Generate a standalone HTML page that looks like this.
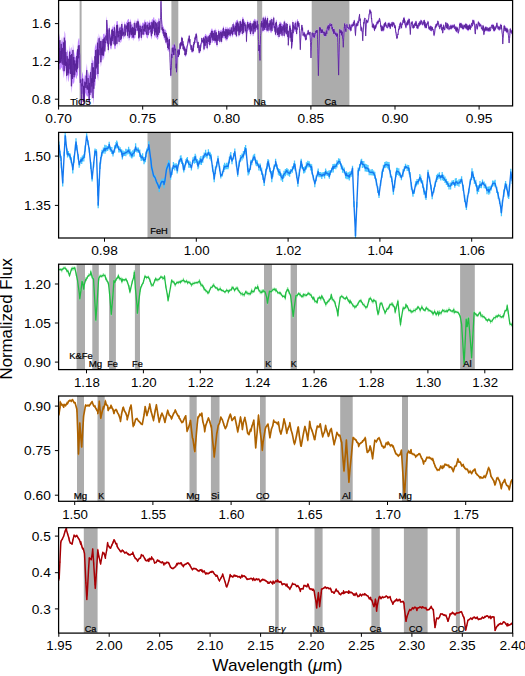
<!DOCTYPE html><html><head><meta charset="utf-8"><style>html,body{margin:0;padding:0;background:#fff;}svg{display:block;}</style></head><body>
<svg width="525" height="676" viewBox="0 0 525 676" font-family='"Liberation Sans", sans-serif'>
<rect width="525" height="676" fill="#fff"/>
<clipPath id="c0"><rect x="58.6" y="0.4" width="454.0" height="105.5"/></clipPath>
<g clip-path="url(#c0)">
<rect x="79.6" y="0.4" width="2.00" height="105.5" fill="#acacac"/>
<rect x="171.4" y="0.4" width="6.90" height="105.5" fill="#acacac"/>
<rect x="257.1" y="0.4" width="5.10" height="105.5" fill="#acacac"/>
<rect x="311.7" y="0.4" width="37.70" height="105.5" fill="#acacac"/>
<path d="M58.60,40.97 L59.65,33.19 L60.35,51.58 L61.05,36.93 L61.75,42.52 L62.45,40.91 L63.15,35.43 L63.85,50.36 L64.55,30.70 L65.25,33.54 L65.95,44.98 L66.65,55.99 L67.35,49.20 L68.05,51.83 L68.75,58.66 L69.45,44.70 L70.15,52.23 L70.85,48.04 L71.55,46.97 L72.25,64.72 L72.95,42.93 L73.65,50.08 L74.35,53.41 L75.05,57.83 L75.75,56.63 L76.45,48.96 L77.15,54.48 L77.85,42.07 L78.55,38.79 L79.25,38.07 L79.95,48.52 L80.65,72.40 L81.35,80.18 L82.05,74.38 L82.75,71.57 L83.45,78.89 L84.15,79.30 L84.85,74.69 L85.55,75.56 L86.25,69.00 L86.95,63.14 L87.65,78.42 L88.35,71.07 L89.05,75.91 L89.75,75.08 L90.45,65.19 L91.15,76.56 L91.85,55.99 L92.55,60.82 L93.25,60.05 L93.95,63.21 L94.65,49.27 L95.35,43.16 L96.05,47.07 L96.75,42.54 L97.45,35.71 L98.15,44.63 L98.85,33.26 L99.55,37.80 L100.25,35.98 L100.95,48.42 L101.65,35.91 L102.35,41.79 L103.05,34.19 L103.75,33.77 L104.45,33.49 L105.15,37.71 L105.85,31.61 L106.55,16.00 L107.25,22.48 L107.95,25.58 L108.65,35.52 L109.35,24.34 L110.05,34.93 L110.75,34.34 L111.45,31.58 L112.15,25.47 L112.85,27.98 L113.55,27.05 L114.25,23.38 L114.95,27.03 L115.65,32.17 L116.35,21.46 L117.05,20.92 L117.75,20.88 L118.45,27.13 L119.15,30.94 L119.85,23.60 L120.55,26.93 L121.25,26.53 L121.95,20.50 L122.65,24.96 L123.35,28.95 L124.05,25.25 L124.75,20.93 L125.45,25.60 L126.15,22.53 L126.85,21.74 L127.55,19.69 L128.25,19.27 L128.95,18.65 L129.65,26.41 L130.35,18.40 L131.05,21.34 L131.75,24.43 L132.45,23.41 L133.15,28.96 L133.85,24.49 L134.55,19.40 L135.25,25.61 L135.95,19.57 L136.65,23.68 L137.35,17.82 L138.05,22.50 L138.75,18.07 L139.45,24.65 L140.15,22.28 L140.85,27.08 L141.55,25.56 L142.25,23.12 L142.95,22.32 L143.65,23.34 L144.35,20.93 L145.05,18.91 L145.75,23.72 L146.45,21.91 L147.15,21.16 L147.85,21.65 L148.55,23.73 L149.25,19.32 L149.95,22.66 L150.65,21.83 L151.35,21.79 L152.05,18.66 L152.75,19.72 L153.45,17.13 L154.15,17.24 L154.85,22.56 L155.55,18.63 L156.25,19.92 L156.95,24.07 L157.65,21.14 L158.35,18.71 L159.05,17.53 L159.75,25.61 L160.45,14.78 L161.15,-1.80 L161.85,16.90 L162.55,24.37 L163.25,26.26 L163.95,27.39 L164.65,29.71 L165.35,29.52 L166.05,30.01 L166.75,33.77 L167.45,35.15 L168.15,40.42 L168.85,36.61 L169.55,36.24 L170.25,54.23 L170.95,66.48 L171.65,51.05 L172.35,44.79 L173.05,44.59 L173.75,46.82 L174.45,41.67 L175.15,46.44 L175.85,45.76 L176.55,60.72 L177.25,49.74 L177.95,48.16 L178.65,49.86 L179.35,48.46 L180.05,42.09 L180.75,41.66 L181.45,36.26 L182.15,36.94 L182.85,39.84 L183.55,42.78 L184.25,45.22 L184.95,47.14 L185.65,47.84 L186.35,47.86 L187.05,44.16 L187.75,40.43 L188.45,37.22 L189.15,34.34 L189.85,37.71 L190.55,44.56 L191.25,47.31 L191.95,43.88 L192.65,47.73 L193.35,42.70 L194.05,40.64 L194.75,36.26 L195.45,35.38 L196.15,32.44 L196.85,33.41 L197.55,41.49 L198.25,40.60 L198.95,48.55 L199.65,44.99 L200.35,43.87 L201.05,41.51 L201.75,36.65 L202.45,38.89 L203.15,39.19 L203.85,36.22 L204.55,36.17 L205.25,33.83 L205.95,34.25 L206.65,35.36 L207.35,37.37 L208.05,33.94 L208.75,36.41 L209.45,32.80 L210.15,34.33 L210.85,30.33 L211.55,28.40 L212.25,28.41 L212.95,30.64 L213.65,30.45 L214.35,31.87 L215.05,27.93 L215.75,30.16 L216.45,29.86 L217.15,37.31 L217.85,32.48 L218.55,28.64 L219.25,30.86 L219.95,31.89 L220.65,29.39 L221.35,30.84 L222.05,29.37 L222.75,28.89 L223.45,25.37 L224.15,28.86 L224.85,29.47 L225.55,26.81 L226.25,26.75 L226.95,30.90 L227.65,26.35 L228.35,29.57 L229.05,27.31 L229.75,27.23 L230.45,30.05 L231.15,24.93 L231.85,28.50 L232.55,26.99 L233.25,21.66 L233.95,23.59 L234.65,25.14 L235.35,23.41 L236.05,20.17 L236.75,20.38 L237.45,19.15 L238.15,20.96 L238.85,26.85 L239.55,23.84 L240.25,18.73 L240.95,22.39 L241.65,21.42 L242.35,17.52 L243.05,16.46 L243.75,20.22 L244.45,20.54 L245.15,22.24 L245.85,22.08 L246.55,29.66 L247.25,19.61 L247.95,22.09 L248.65,21.76 L249.35,22.85 L250.05,20.95 L250.75,20.55 L251.45,25.41 L252.15,21.15 L252.85,25.01 L253.55,20.84 L254.25,18.39 L254.95,19.60 L255.65,19.13 L256.35,22.90 L257.05,18.30 L257.75,20.43 L258.45,25.02 L259.15,42.50 L259.85,45.93 L260.55,31.16 L261.25,20.63 L261.95,18.73 L262.65,20.80 L263.35,15.23 L264.05,19.73 L264.75,17.07 L265.45,15.27 L266.15,19.76 L266.85,17.88 L267.55,15.55 L268.25,25.28 L268.95,20.88 L269.65,20.86 L270.35,17.86 L271.05,25.61 L271.75,16.56 L272.45,20.86 L273.15,19.82 L273.85,15.18 L274.55,23.67 L275.25,24.47 L275.95,20.33 L276.65,19.41 L277.35,26.25 L278.05,25.21 L278.75,24.91 L279.45,21.55 L280.15,22.77 L280.85,21.26 L281.55,23.55 L282.25,24.11 L282.95,24.44 L283.65,22.92 L284.35,19.15 L285.05,25.77 L285.75,20.81 L286.45,24.86 L287.15,21.51 L287.85,28.52 L288.55,31.52 L289.25,24.78 L289.95,23.32 L290.65,25.36 L291.35,29.93 L292.05,36.79 L292.75,19.54 L293.45,22.72 L294.15,24.02 L294.85,22.15 L295.55,20.37 L296.25,24.71 L296.95,19.78 L297.65,18.72 L298.35,22.53 L299.05,21.78 L299.75,29.54 L300.45,40.78 L301.15,27.93 L301.85,23.82 L302.55,26.47 L303.25,32.81 L303.95,31.40 L304.65,31.87 L305.35,33.24 L306.05,36.72 L306.75,32.95 L307.45,31.89 L308.15,29.11 L308.85,31.41 L309.55,32.30 L310.25,30.86 L310.95,46.25 L311.65,35.42 L312.35,31.41 L313.05,34.74 L313.75,31.95 L314.45,33.91 L315.15,31.91 L315.85,29.68 L316.55,29.24 L317.25,28.93 L317.95,47.28 L318.65,53.35 L319.35,26.10 L320.05,26.43 L320.75,27.80 L321.45,28.91 L322.15,28.50 L322.85,29.92 L323.55,30.74 L324.25,33.51 L324.95,30.70 L325.65,32.01 L326.35,29.44 L327.05,26.61 L327.75,25.36 L328.45,24.05 L329.15,25.74 L329.85,22.39 L330.55,23.75 L331.25,24.57 L331.95,22.79 L332.65,28.10 L333.35,27.96 L334.05,28.07 L334.75,30.46 L335.45,31.66 L336.15,31.63 L336.85,32.85 L337.55,32.44 L338.25,52.54 L338.95,51.04 L339.65,28.21 L340.35,29.27 L341.05,29.35 L341.75,30.94 L342.45,30.40 L343.15,38.37 L343.85,27.91 L344.55,22.36 L345.25,24.05 L345.95,26.73 L346.65,23.22 L347.35,23.44 L348.05,26.07 L348.75,27.58 L349.45,23.29 L350.15,24.14 L350.85,26.14 L351.55,23.54 L352.25,23.71 L352.95,23.05 L353.65,21.06 L354.35,19.31 L355.05,21.96 L355.75,25.64 L356.45,22.78 L357.15,21.85 L357.85,20.20 L358.55,18.21 L359.25,13.11 L359.95,17.42 L360.65,22.13 L361.35,26.44 L362.05,26.36 L362.75,31.51 L363.45,21.07 L364.15,18.35 L364.85,16.80 L365.55,24.74 L366.25,18.79 L366.95,19.51 L367.65,19.82 L368.35,18.11 L369.05,13.01 L369.75,8.49 L370.45,9.90 L371.15,10.60 L371.85,16.94 L372.55,24.38 L373.25,22.70 L373.95,24.27 L374.65,26.07 L375.35,24.29 L376.05,23.62 L376.75,21.25 L377.45,20.38 L378.15,19.82 L378.85,19.39 L379.55,17.16 L380.25,19.67 L380.95,24.36 L381.65,25.26 L382.35,25.41 L383.05,25.78 L383.75,25.00 L384.45,22.60 L385.15,21.91 L385.85,21.28 L386.55,24.26 L387.25,26.15 L387.95,22.29 L388.65,22.53 L389.35,21.76 L390.05,24.18 L390.75,22.76 L391.45,22.91 L392.15,21.00 L392.85,22.63 L393.55,21.47 L394.25,23.84 L394.95,24.27 L395.65,25.73 L396.35,31.42 L397.05,35.77 L397.75,32.79 L398.45,28.07 L399.15,24.77 L399.85,22.49 L400.55,21.36 L401.25,23.47 L401.95,22.78 L402.65,19.80 L403.35,18.68 L404.05,16.58 L404.75,17.61 L405.45,22.67 L406.15,23.46 L406.85,21.33 L407.55,20.09 L408.25,18.74 L408.95,17.75 L409.65,19.43 L410.35,27.96 L411.05,21.44 L411.75,22.00 L412.45,20.40 L413.15,25.06 L413.85,23.76 L414.55,22.63 L415.25,21.70 L415.95,20.24 L416.65,21.18 L417.35,23.91 L418.05,25.53 L418.75,21.82 L419.45,21.42 L420.15,20.46 L420.85,19.24 L421.55,19.99 L422.25,22.60 L422.95,20.62 L423.65,21.03 L424.35,18.92 L425.05,20.78 L425.75,22.91 L426.45,23.43 L427.15,21.92 L427.85,20.31 L428.55,23.55 L429.25,25.66 L429.95,26.45 L430.65,24.87 L431.35,26.21 L432.05,26.02 L432.75,27.74 L433.45,29.36 L434.15,32.04 L434.85,26.58 L435.55,24.72 L436.25,23.04 L436.95,22.99 L437.65,19.75 L438.35,21.54 L439.05,24.55 L439.75,24.30 L440.45,23.89 L441.15,23.11 L441.85,24.13 L442.55,28.99 L443.25,24.03 L443.95,24.03 L444.65,27.56 L445.35,23.55 L446.05,21.23 L446.75,26.14 L447.45,22.31 L448.15,23.67 L448.85,25.57 L449.55,26.45 L450.25,24.66 L450.95,24.36 L451.65,25.05 L452.35,24.30 L453.05,24.96 L453.75,24.89 L454.45,23.44 L455.15,25.57 L455.85,26.50 L456.55,26.32 L457.25,26.54 L457.95,28.16 L458.65,28.94 L459.35,22.77 L460.05,21.99 L460.75,23.81 L461.45,22.37 L462.15,25.07 L462.85,23.52 L463.55,26.91 L464.25,23.84 L464.95,25.50 L465.65,22.64 L466.35,22.99 L467.05,26.02 L467.75,24.51 L468.45,25.15 L469.15,24.41 L469.85,23.57 L470.55,24.90 L471.25,23.93 L471.95,21.77 L472.65,19.05 L473.35,20.12 L474.05,19.37 L474.75,22.33 L475.45,27.34 L476.15,22.78 L476.85,24.04 L477.55,24.65 L478.25,20.60 L478.95,21.69 L479.65,24.01 L480.35,23.51 L481.05,23.48 L481.75,26.69 L482.45,27.61 L483.15,24.20 L483.85,29.57 L484.55,27.62 L485.25,25.70 L485.95,27.19 L486.65,25.97 L487.35,27.53 L488.05,28.99 L488.75,26.96 L489.45,26.38 L490.15,29.07 L490.85,25.78 L491.55,24.36 L492.25,23.87 L492.95,24.04 L493.65,24.29 L494.35,28.04 L495.05,25.45 L495.75,26.56 L496.45,24.13 L497.15,21.67 L497.85,26.21 L498.55,25.48 L499.25,26.40 L499.95,25.49 L500.65,23.53 L501.35,23.82 L502.05,27.42 L502.75,36.50 L503.45,28.86 L504.15,24.49 L504.85,25.20 L505.55,27.12 L506.25,27.67 L506.95,27.24 L507.65,28.39 L508.35,31.38 L509.05,37.26 L509.75,29.25 L510.45,27.52 L511.15,30.00 L511.85,29.48 L512.60,31.84 L512.60,35.42 L511.85,34.42 L511.15,33.77 L510.45,32.36 L509.75,39.45 L509.05,44.20 L508.35,36.96 L507.65,32.82 L506.95,33.54 L506.25,31.22 L505.55,31.82 L504.85,32.18 L504.15,29.53 L503.45,38.16 L502.75,45.20 L502.05,35.36 L501.35,30.29 L500.65,27.50 L499.95,30.73 L499.25,30.73 L498.55,30.21 L497.85,29.75 L497.15,28.28 L496.45,27.81 L495.75,30.29 L495.05,30.69 L494.35,31.98 L493.65,31.64 L492.95,29.95 L492.25,26.77 L491.55,27.95 L490.85,30.65 L490.15,31.70 L489.45,32.09 L488.75,31.94 L488.05,31.77 L487.35,31.47 L486.65,31.10 L485.95,31.84 L485.25,30.87 L484.55,32.93 L483.85,35.85 L483.15,29.34 L482.45,31.59 L481.75,30.32 L481.05,27.59 L480.35,26.78 L479.65,27.43 L478.95,25.46 L478.25,26.91 L477.55,30.23 L476.85,30.04 L476.15,27.01 L475.45,35.20 L474.75,33.17 L474.05,24.74 L473.35,24.66 L472.65,27.29 L471.95,26.01 L471.25,27.87 L470.55,30.76 L469.85,27.87 L469.15,30.20 L468.45,31.18 L467.75,31.20 L467.05,30.24 L466.35,29.66 L465.65,29.02 L464.95,28.30 L464.25,27.99 L463.55,30.16 L462.85,29.97 L462.15,29.22 L461.45,28.02 L460.75,28.61 L460.05,26.45 L459.35,30.29 L458.65,34.20 L457.95,34.04 L457.25,31.39 L456.55,32.68 L455.85,31.71 L455.15,30.21 L454.45,29.15 L453.75,28.36 L453.05,28.37 L452.35,28.20 L451.65,29.35 L450.95,30.27 L450.25,28.25 L449.55,30.26 L448.85,30.70 L448.15,27.73 L447.45,29.90 L446.75,29.23 L446.05,25.53 L445.35,28.44 L444.65,31.12 L443.95,30.08 L443.25,31.82 L442.55,34.27 L441.85,31.32 L441.15,27.08 L440.45,28.15 L439.75,29.86 L439.05,27.84 L438.35,24.55 L437.65,25.25 L436.95,26.65 L436.25,27.45 L435.55,28.90 L434.85,34.74 L434.15,36.63 L433.45,34.01 L432.75,31.08 L432.05,30.47 L431.35,32.10 L430.65,30.40 L429.95,30.74 L429.25,29.86 L428.55,29.84 L427.85,25.29 L427.15,25.96 L426.45,29.04 L425.75,27.95 L425.05,28.77 L424.35,27.41 L423.65,24.61 L422.95,25.58 L422.25,25.74 L421.55,24.17 L420.85,24.37 L420.15,25.64 L419.45,26.82 L418.75,26.83 L418.05,29.78 L417.35,28.72 L416.65,28.94 L415.95,27.10 L415.25,24.95 L414.55,26.27 L413.85,29.00 L413.15,29.36 L412.45,27.06 L411.75,25.10 L411.05,27.91 L410.35,35.70 L409.65,29.19 L408.95,24.39 L408.25,25.37 L407.55,25.65 L406.85,26.25 L406.15,28.70 L405.45,28.25 L404.75,25.30 L404.05,24.20 L403.35,22.58 L402.65,25.00 L401.95,25.80 L401.25,29.35 L400.55,26.65 L399.85,29.95 L399.15,29.51 L398.45,33.57 L397.75,36.50 L397.05,39.80 L396.35,37.16 L395.65,33.77 L394.95,29.40 L394.25,26.30 L393.55,25.57 L392.85,27.75 L392.15,26.13 L391.45,26.73 L390.75,27.47 L390.05,29.81 L389.35,27.89 L388.65,27.15 L387.95,28.03 L387.25,29.16 L386.55,27.70 L385.85,26.82 L385.15,26.89 L384.45,27.90 L383.75,31.48 L383.05,31.39 L382.35,31.23 L381.65,31.91 L380.95,29.90 L380.25,24.07 L379.55,20.59 L378.85,23.16 L378.15,24.60 L377.45,24.53 L376.75,26.28 L376.05,28.63 L375.35,29.34 L374.65,31.75 L373.95,30.17 L373.25,27.97 L372.55,28.53 L371.85,23.66 L371.15,20.24 L370.45,14.51 L369.75,14.04 L369.05,18.65 L368.35,21.96 L367.65,23.73 L366.95,22.83 L366.25,30.52 L365.55,37.20 L364.85,20.32 L364.15,24.70 L363.45,31.19 L362.75,42.00 L362.05,32.19 L361.35,31.86 L360.65,30.54 L359.95,22.15 L359.25,17.88 L358.55,24.04 L357.85,26.97 L357.15,24.72 L356.45,27.39 L355.75,36.70 L355.05,35.31 L354.35,26.28 L353.65,25.44 L352.95,27.22 L352.25,27.49 L351.55,28.35 L350.85,31.93 L350.15,31.24 L349.45,29.94 L348.75,30.07 L348.05,29.16 L347.35,28.98 L346.65,26.93 L345.95,32.95 L345.25,31.47 L344.55,28.88 L343.85,38.98 L343.15,48.50 L342.45,40.06 L341.75,36.48 L341.05,34.40 L340.35,33.76 L339.65,45.87 L338.95,76.30 L338.25,70.13 L337.55,43.63 L336.85,37.57 L336.15,37.64 L335.45,36.22 L334.75,35.03 L334.05,33.06 L333.35,34.86 L332.65,32.61 L331.95,30.39 L331.25,27.47 L330.55,26.92 L329.85,25.78 L329.15,29.57 L328.45,31.53 L327.75,29.60 L327.05,35.16 L326.35,33.62 L325.65,37.07 L324.95,36.98 L324.25,36.96 L323.55,34.03 L322.85,33.08 L322.15,33.95 L321.45,34.09 L320.75,34.08 L320.05,31.84 L319.35,47.08 L318.65,76.90 L317.95,68.40 L317.25,40.91 L316.55,33.93 L315.85,34.37 L315.15,36.89 L314.45,38.71 L313.75,37.67 L313.05,38.35 L312.35,35.93 L311.65,46.36 L310.95,59.20 L310.25,43.76 L309.55,35.83 L308.85,35.59 L308.15,33.64 L307.45,35.72 L306.75,36.37 L306.05,40.72 L305.35,40.93 L304.65,38.02 L303.95,36.42 L303.25,36.79 L302.55,33.07 L301.85,29.73 L301.15,38.60 L300.45,50.90 L299.75,42.09 L299.05,27.46 L298.35,27.79 L297.65,27.06 L296.95,36.46 L296.25,32.51 L295.55,31.65 L294.85,31.93 L294.15,30.33 L293.45,35.64 L292.75,44.31 L292.05,47.50 L291.35,50.82 L290.65,34.05 L289.95,40.23 L289.25,35.70 L288.55,47.75 L287.85,39.44 L287.15,32.14 L286.45,36.66 L285.75,32.22 L285.05,34.96 L284.35,38.34 L283.65,33.46 L282.95,33.03 L282.25,38.08 L281.55,34.89 L280.85,36.33 L280.15,34.07 L279.45,36.40 L278.75,39.40 L278.05,33.21 L277.35,37.41 L276.65,35.20 L275.95,28.74 L275.25,37.04 L274.55,31.49 L273.85,29.85 L273.15,27.61 L272.45,28.21 L271.75,33.62 L271.05,31.95 L270.35,33.02 L269.65,28.27 L268.95,29.08 L268.25,33.15 L267.55,30.70 L266.85,32.83 L266.15,29.68 L265.45,30.35 L264.75,29.08 L264.05,32.34 L263.35,30.28 L262.65,33.22 L261.95,29.83 L261.25,28.95 L260.55,46.91 L259.85,62.90 L259.15,53.50 L258.45,53.50 L257.75,31.97 L257.05,29.31 L256.35,30.00 L255.65,30.70 L254.95,34.07 L254.25,31.63 L253.55,35.66 L252.85,36.45 L252.15,30.19 L251.45,33.83 L250.75,36.49 L250.05,32.29 L249.35,31.94 L248.65,29.78 L247.95,30.95 L247.25,33.50 L246.55,44.08 L245.85,30.97 L245.15,33.74 L244.45,28.37 L243.75,35.23 L243.05,32.11 L242.35,36.44 L241.65,29.45 L240.95,33.31 L240.25,34.77 L239.55,34.88 L238.85,37.78 L238.15,33.82 L237.45,28.62 L236.75,38.81 L236.05,32.48 L235.35,37.19 L234.65,33.14 L233.95,34.25 L233.25,33.92 L232.55,37.67 L231.85,36.11 L231.15,33.91 L230.45,38.03 L229.75,35.54 L229.05,36.72 L228.35,37.66 L227.65,38.80 L226.95,41.64 L226.25,39.51 L225.55,40.63 L224.85,38.11 L224.15,38.65 L223.45,38.23 L222.75,36.27 L222.05,40.21 L221.35,44.27 L220.65,37.41 L219.95,44.34 L219.25,41.01 L218.55,38.86 L217.85,43.26 L217.15,47.50 L216.45,45.54 L215.75,42.24 L215.05,43.46 L214.35,42.91 L213.65,36.72 L212.95,43.22 L212.25,42.16 L211.55,39.34 L210.85,45.19 L210.15,42.76 L209.45,47.54 L208.75,44.29 L208.05,43.65 L207.35,50.75 L206.65,45.58 L205.95,44.85 L205.25,48.26 L204.55,48.13 L203.85,51.91 L203.15,44.46 L202.45,42.53 L201.75,43.74 L201.05,48.20 L200.35,52.55 L199.65,53.21 L198.95,54.11 L198.25,46.20 L197.55,49.34 L196.85,44.00 L196.15,39.39 L195.45,40.88 L194.75,44.40 L194.05,45.57 L193.35,52.55 L192.65,52.25 L191.95,53.19 L191.25,51.32 L190.55,49.07 L189.85,44.83 L189.15,43.72 L188.45,42.64 L187.75,46.98 L187.05,49.74 L186.35,55.80 L185.65,56.66 L184.95,56.46 L184.25,52.01 L183.55,48.87 L182.85,50.42 L182.15,43.88 L181.45,46.42 L180.75,47.51 L180.05,50.17 L179.35,56.07 L178.65,55.97 L177.95,58.39 L177.25,63.15 L176.55,75.20 L175.85,71.26 L175.15,53.21 L174.45,48.72 L173.75,58.04 L173.05,55.28 L172.35,55.71 L171.65,68.82 L170.95,78.70 L170.25,72.72 L169.55,50.57 L168.85,52.19 L168.15,49.74 L167.45,50.99 L166.75,43.21 L166.05,45.50 L165.35,40.34 L164.65,40.51 L163.95,38.95 L163.25,36.56 L162.55,33.65 L161.85,32.81 L161.15,14.20 L160.45,21.92 L159.75,36.17 L159.05,32.49 L158.35,38.37 L157.65,40.16 L156.95,38.25 L156.25,38.26 L155.55,35.91 L154.85,38.73 L154.15,31.44 L153.45,30.88 L152.75,32.43 L152.05,37.06 L151.35,39.65 L150.65,35.66 L149.95,32.64 L149.25,33.43 L148.55,34.86 L147.85,38.57 L147.15,38.34 L146.45,37.33 L145.75,32.47 L145.05,35.39 L144.35,34.47 L143.65,33.91 L142.95,38.13 L142.25,31.04 L141.55,41.28 L140.85,38.03 L140.15,35.12 L139.45,40.86 L138.75,41.77 L138.05,34.04 L137.35,30.76 L136.65,31.20 L135.95,30.71 L135.25,38.06 L134.55,38.59 L133.85,38.27 L133.15,41.08 L132.45,37.17 L131.75,38.63 L131.05,37.85 L130.35,35.92 L129.65,38.53 L128.95,41.31 L128.25,35.07 L127.55,39.26 L126.85,32.58 L126.15,31.85 L125.45,38.88 L124.75,29.34 L124.05,39.84 L123.35,38.20 L122.65,34.10 L121.95,39.57 L121.25,42.05 L120.55,43.27 L119.85,37.47 L119.15,45.95 L118.45,40.44 L117.75,41.40 L117.05,47.90 L116.35,37.44 L115.65,48.38 L114.95,49.53 L114.25,48.26 L113.55,40.04 L112.85,42.46 L112.15,45.07 L111.45,49.23 L110.75,49.59 L110.05,47.81 L109.35,36.57 L108.65,54.08 L107.95,46.05 L107.25,47.53 L106.55,41.09 L105.85,47.01 L105.15,51.81 L104.45,55.39 L103.75,60.60 L103.05,55.35 L102.35,60.30 L101.65,60.05 L100.95,67.22 L100.25,60.18 L99.55,52.61 L98.85,68.68 L98.15,81.00 L97.45,77.48 L96.75,74.12 L96.05,75.45 L95.35,85.74 L94.65,85.54 L93.95,95.81 L93.25,105.10 L92.55,89.97 L91.85,93.52 L91.15,99.61 L90.45,91.20 L89.75,101.98 L89.05,109.00 L88.35,95.84 L87.65,96.40 L86.95,96.53 L86.25,95.01 L85.55,92.44 L84.85,99.18 L84.15,108.57 L83.45,109.06 L82.75,94.26 L82.05,93.19 L81.35,111.48 L80.65,89.57 L79.95,89.83 L79.25,59.27 L78.55,65.28 L77.85,74.90 L77.15,76.21 L76.45,79.18 L75.75,77.44 L75.05,74.48 L74.35,82.08 L73.65,84.27 L72.95,81.96 L72.25,85.95 L71.55,93.28 L70.85,70.68 L70.15,80.99 L69.45,72.21 L68.75,80.33 L68.05,82.31 L67.35,70.82 L66.65,82.72 L65.95,72.94 L65.25,67.05 L64.55,71.97 L63.85,78.13 L63.15,71.87 L62.45,70.51 L61.75,67.30 L61.05,68.31 L60.35,69.79 L59.65,70.36 L58.60,67.56Z" fill="#c088ff" stroke="none"/>
<path d="M58.60,60.56 L58.82,55.76 L59.04,47.97 L59.26,50.23 L59.48,63.36 L59.70,55.37 L59.92,40.19 L60.14,62.79 L60.36,58.58 L60.58,62.39 L60.80,51.07 L61.02,61.31 L61.24,43.93 L61.46,58.94 L61.68,49.52 L61.90,60.30 L62.12,63.51 L62.34,47.91 L62.56,54.19 L62.78,54.72 L63.00,64.87 L63.22,60.23 L63.44,42.43 L63.66,57.36 L63.88,59.77 L64.10,71.13 L64.32,37.70 L64.54,48.04 L64.76,64.97 L64.98,40.54 L65.20,43.12 L65.42,60.05 L65.64,65.94 L65.86,51.98 L66.08,64.30 L66.30,61.80 L66.52,75.72 L66.74,62.99 L66.96,73.06 L67.18,56.20 L67.40,62.87 L67.62,63.82 L67.84,75.31 L68.06,70.57 L68.28,58.83 L68.50,72.18 L68.72,73.33 L68.94,65.66 L69.16,64.51 L69.38,65.21 L69.60,51.70 L69.82,68.91 L70.04,69.39 L70.26,59.23 L70.48,73.99 L70.70,55.04 L70.92,62.74 L71.14,63.68 L71.36,86.28 L71.58,53.97 L71.80,73.55 L72.02,76.92 L72.24,71.72 L72.46,78.95 L72.68,59.05 L72.90,49.93 L73.12,74.96 L73.34,57.08 L73.56,64.90 L73.78,57.10 L74.00,77.27 L74.22,75.08 L74.44,60.41 L74.66,74.86 L74.88,67.48 L75.10,64.83 L75.32,66.33 L75.54,63.63 L75.76,70.44 L75.98,67.07 L76.20,60.48 L76.42,72.18 L76.64,55.96 L76.86,62.10 L77.08,61.48 L77.30,69.21 L77.52,49.35 L77.74,67.90 L77.96,51.82 L78.18,49.07 L78.40,45.79 L78.62,58.28 L78.84,54.47 L79.06,45.07 L79.28,45.92 L79.50,52.27 L79.72,55.52 L79.94,75.89 L80.16,82.83 L80.38,82.57 L80.60,82.28 L80.82,79.40 L81.04,87.18 L81.26,94.53 L81.48,104.48 L81.70,94.43 L81.92,83.43 L82.14,86.19 L82.36,81.38 L82.58,78.57 L82.80,83.91 L83.02,87.26 L83.24,102.06 L83.46,85.89 L83.68,97.79 L83.90,101.57 L84.12,86.30 L84.34,100.23 L84.56,92.18 L84.78,81.69 L85.00,87.62 L85.22,85.15 L85.44,82.56 L85.66,82.60 L85.88,85.44 L86.10,88.01 L86.32,76.00 L86.54,83.91 L86.76,70.14 L86.98,86.28 L87.20,89.53 L87.42,85.42 L87.64,86.58 L87.86,89.40 L88.08,78.07 L88.30,81.99 L88.52,88.84 L88.74,93.18 L88.96,87.55 L89.18,102.00 L89.40,82.91 L89.62,92.69 L89.84,94.98 L90.06,82.08 L90.28,75.66 L90.50,72.19 L90.72,84.20 L90.94,92.61 L91.16,84.74 L91.38,83.56 L91.60,78.27 L91.82,86.52 L92.04,62.99 L92.26,82.97 L92.48,80.83 L92.70,67.82 L92.92,98.10 L93.14,67.05 L93.36,69.55 L93.58,68.12 L93.80,88.81 L94.02,70.21 L94.24,81.81 L94.46,78.54 L94.68,73.03 L94.90,56.27 L95.12,60.22 L95.34,78.74 L95.56,50.16 L95.78,54.07 L96.00,59.89 L96.22,68.45 L96.44,62.87 L96.66,66.64 L96.88,49.54 L97.10,67.12 L97.32,63.02 L97.54,42.71 L97.76,70.48 L97.98,74.00 L98.20,49.63 L98.42,54.81 L98.64,63.68 L98.86,42.37 L99.08,38.26 L99.30,42.80 L99.52,47.61 L99.74,47.11 L99.96,55.18 L100.18,52.34 L100.40,40.98 L100.62,53.42 L100.84,62.22 L101.06,56.97 L101.28,55.40 L101.50,48.36 L101.72,55.05 L101.94,40.91 L102.16,52.98 L102.38,46.79 L102.60,55.30 L102.82,50.35 L103.04,39.19 L103.26,47.85 L103.48,55.60 L103.70,38.77 L103.92,42.81 L104.14,42.25 L104.36,37.49 L104.58,50.23 L104.80,51.39 L105.02,47.81 L105.24,43.97 L105.46,41.71 L105.68,43.01 L105.80,39.93 L105.90,35.61 L106.12,40.40 L106.34,37.09 L106.56,32.32 L106.78,20.05 L106.80,20.00 L107.00,26.48 L107.22,28.96 L107.44,43.53 L107.66,38.50 L107.80,33.71 L107.88,29.58 L108.10,42.05 L108.32,50.08 L108.54,43.36 L108.76,44.29 L108.98,39.52 L109.20,28.34 L109.42,29.28 L109.64,32.57 L109.86,38.93 L110.08,41.52 L110.30,43.81 L110.52,38.34 L110.74,45.59 L110.96,38.86 L111.18,36.60 L111.40,45.23 L111.62,35.58 L111.84,29.69 L112.06,34.81 L112.28,41.07 L112.50,29.47 L112.72,38.41 L112.94,38.46 L113.16,31.98 L113.38,31.05 L113.60,36.04 L113.82,34.95 L114.04,44.26 L114.26,38.76 L114.48,27.38 L114.70,31.03 L114.92,39.29 L115.14,45.53 L115.36,36.91 L115.58,36.17 L115.80,44.38 L116.02,33.44 L116.24,31.70 L116.46,25.46 L116.68,30.24 L116.90,43.90 L117.12,24.92 L117.34,32.75 L117.56,24.88 L117.78,33.28 L118.00,37.40 L118.22,31.13 L118.44,36.44 L118.66,36.42 L118.88,34.94 L119.10,41.95 L119.32,36.82 L119.54,30.88 L119.76,28.77 L119.98,27.60 L120.20,33.97 L120.42,30.43 L120.64,39.77 L120.86,38.88 L121.08,30.31 L121.30,30.03 L121.52,38.55 L121.74,24.00 L121.96,30.10 L122.18,36.07 L122.40,28.46 L122.62,30.17 L122.84,30.60 L123.06,34.70 L123.28,32.45 L123.50,33.46 L123.72,34.22 L123.94,31.89 L124.16,36.34 L124.38,28.75 L124.60,25.84 L124.82,24.43 L125.04,24.92 L125.26,29.10 L125.48,35.38 L125.70,31.61 L125.92,28.18 L126.14,26.03 L126.36,28.35 L126.58,29.08 L126.80,28.62 L127.02,25.24 L127.24,29.40 L127.46,35.76 L127.68,23.19 L127.90,30.24 L128.12,22.77 L128.34,31.57 L128.56,27.52 L128.78,22.15 L129.00,30.76 L129.22,37.81 L129.44,30.72 L129.66,35.03 L129.88,29.91 L130.10,21.90 L130.32,32.42 L130.54,28.91 L130.76,24.84 L130.98,34.35 L131.20,32.54 L131.42,29.40 L131.64,35.13 L131.86,27.93 L132.08,34.16 L132.30,27.61 L132.52,33.67 L132.74,26.91 L132.96,37.58 L133.18,32.46 L133.40,37.31 L133.62,27.99 L133.84,29.40 L134.06,34.77 L134.28,22.90 L134.50,26.59 L134.72,35.09 L134.94,32.59 L135.16,34.56 L135.38,29.11 L135.60,32.64 L135.82,27.21 L136.04,24.48 L136.26,23.07 L136.48,27.70 L136.70,27.62 L136.92,27.18 L137.14,21.42 L137.36,21.32 L137.58,27.26 L137.80,30.54 L138.02,27.03 L138.24,26.00 L138.46,21.57 L138.68,38.27 L138.90,25.68 L139.12,37.36 L139.34,36.94 L139.56,31.64 L139.78,28.15 L140.00,31.07 L140.22,25.78 L140.44,31.62 L140.66,30.58 L140.88,32.78 L141.10,34.53 L141.32,37.78 L141.54,29.06 L141.76,34.99 L141.98,27.25 L142.20,26.62 L142.42,27.54 L142.64,25.82 L142.86,33.70 L143.08,33.25 L143.30,34.63 L143.52,29.23 L143.74,30.41 L143.96,26.84 L144.18,24.43 L144.40,30.97 L144.62,30.35 L144.84,24.80 L145.06,31.89 L145.28,22.41 L145.50,28.97 L145.72,27.22 L145.94,27.66 L146.16,25.41 L146.38,33.83 L146.60,32.27 L146.82,34.84 L147.04,30.53 L147.26,24.66 L147.48,28.48 L147.70,25.15 L147.92,31.94 L148.14,35.07 L148.36,31.36 L148.58,27.23 L148.80,27.87 L149.02,29.93 L149.24,22.82 L149.46,29.10 L149.68,29.14 L149.90,26.16 L150.12,26.78 L150.34,29.31 L150.56,25.33 L150.78,25.44 L151.00,32.16 L151.22,30.01 L151.44,36.15 L151.66,25.29 L151.88,22.16 L152.10,33.52 L152.32,33.56 L152.54,26.40 L152.76,23.22 L152.98,28.93 L153.20,21.73 L153.42,27.38 L153.64,20.63 L153.86,27.83 L154.08,20.74 L154.30,27.94 L154.52,35.23 L154.74,27.92 L154.96,32.07 L155.18,26.06 L155.40,24.83 L155.62,22.13 L155.84,32.41 L156.06,27.68 L156.28,34.76 L156.50,23.42 L156.72,27.57 L156.94,29.04 L157.16,34.75 L157.38,36.66 L157.60,26.56 L157.82,24.64 L158.04,22.21 L158.26,34.87 L158.48,28.99 L158.70,26.66 L158.92,28.99 L159.14,21.03 L159.36,21.82 L159.58,32.67 L159.80,30.32 L160.00,29.24 L160.02,28.61 L160.24,18.74 L160.46,18.92 L160.68,17.78 L160.90,1.64 L161.00,1.20 L161.12,6.87 L161.34,11.20 L161.56,19.90 L161.78,24.53 L162.00,29.81 L162.00,29.81 L162.22,27.37 L162.44,30.65 L162.66,28.67 L162.88,30.46 L163.10,30.88 L163.32,33.56 L163.54,29.26 L163.76,30.39 L163.98,35.95 L164.20,32.10 L164.42,32.71 L164.64,37.51 L164.86,36.16 L165.08,36.28 L165.30,37.34 L165.52,32.52 L165.74,39.01 L165.96,42.50 L166.18,40.25 L166.40,33.01 L166.62,40.21 L166.84,36.77 L167.06,39.99 L167.28,42.07 L167.50,38.15 L167.72,47.99 L167.94,43.42 L168.16,46.74 L168.38,46.42 L168.60,49.19 L168.82,48.89 L169.04,39.61 L169.26,45.65 L169.48,39.24 L169.60,42.61 L169.70,47.57 L169.92,57.23 L170.14,63.22 L170.36,69.72 L170.58,68.53 L170.80,75.70 L170.80,75.70 L171.02,70.10 L171.24,69.48 L171.46,65.82 L171.68,54.05 L171.90,58.06 L172.00,52.71 L172.12,48.86 L172.34,47.79 L172.56,51.48 L172.78,52.28 L173.00,51.75 L173.22,47.59 L173.44,55.04 L173.66,49.82 L173.88,54.99 L174.10,54.33 L174.32,44.67 L174.54,45.72 L174.76,45.66 L174.98,50.13 L175.20,49.44 L175.42,50.21 L175.50,48.76 L175.64,49.83 L175.86,59.51 L176.08,68.26 L176.30,63.72 L176.50,72.20 L176.52,72.02 L176.74,67.52 L176.96,60.15 L177.18,54.38 L177.40,53.58 L177.50,51.14 L177.62,51.31 L177.84,51.73 L178.06,49.56 L178.28,56.99 L178.50,54.57 L178.72,51.62 L178.94,51.26 L179.16,50.05 L179.38,54.67 L179.60,49.86 L179.82,48.77 L180.04,43.49 L180.26,48.71 L180.48,43.99 L180.70,43.06 L180.92,46.11 L181.14,42.07 L181.36,45.02 L181.58,44.86 L181.80,37.66 L182.02,40.66 L182.24,38.34 L182.46,42.48 L182.68,45.44 L182.90,41.24 L183.12,49.02 L183.34,45.19 L183.56,44.18 L183.78,47.47 L184.00,50.44 L184.22,46.62 L184.44,50.61 L184.66,48.54 L184.88,55.06 L185.10,53.57 L185.32,52.96 L185.54,55.26 L185.76,49.24 L185.98,50.29 L186.20,54.40 L186.42,49.26 L186.64,51.70 L186.86,48.34 L187.08,45.56 L187.30,45.74 L187.52,45.58 L187.74,43.62 L187.96,41.83 L188.18,41.04 L188.40,38.62 L188.62,41.24 L188.84,40.96 L189.06,40.83 L189.28,35.74 L189.50,42.32 L189.72,41.36 L189.94,39.11 L190.16,43.43 L190.38,45.96 L190.60,46.27 L190.82,47.67 L191.04,49.10 L191.26,49.92 L191.48,48.71 L191.70,45.28 L191.92,48.80 L192.14,51.79 L192.36,49.13 L192.58,50.85 L192.80,50.32 L193.02,47.90 L193.24,51.15 L193.46,44.10 L193.68,47.52 L193.90,43.61 L194.12,42.04 L194.34,44.17 L194.56,40.64 L194.78,43.00 L195.00,37.66 L195.22,39.48 L195.44,36.78 L195.66,37.34 L195.88,36.27 L196.10,33.84 L196.32,37.99 L196.54,34.81 L196.76,36.36 L196.98,41.45 L197.20,42.60 L197.42,42.89 L197.64,43.14 L197.86,47.94 L198.08,42.00 L198.30,44.19 L198.52,44.80 L198.74,50.13 L198.96,49.95 L199.18,52.71 L199.40,51.81 L199.62,48.44 L199.84,46.39 L200.06,45.27 L200.28,51.15 L200.50,48.23 L200.72,46.80 L200.94,44.14 L201.16,43.84 L201.38,42.91 L201.60,42.34 L201.82,38.05 L202.04,41.64 L202.26,40.29 L202.48,41.13 L202.70,40.31 L202.92,41.81 L203.14,40.59 L203.36,43.06 L203.58,37.62 L203.80,40.24 L204.02,49.41 L204.24,38.67 L204.46,42.07 L204.68,45.63 L204.90,39.98 L205.12,45.76 L205.34,38.11 L205.56,36.33 L205.78,38.16 L206.00,36.75 L206.22,42.35 L206.44,41.02 L206.66,43.08 L206.88,37.86 L207.10,48.25 L207.32,40.20 L207.54,39.87 L207.76,41.15 L207.98,38.14 L208.20,36.44 L208.42,38.91 L208.64,41.79 L208.86,40.79 L209.08,41.68 L209.30,36.21 L209.52,35.30 L209.74,45.04 L209.96,36.83 L210.18,39.34 L210.40,40.26 L210.62,42.69 L210.84,32.83 L211.06,36.03 L211.28,36.28 L211.50,36.84 L211.72,30.90 L211.94,37.75 L212.16,30.91 L212.38,38.94 L212.60,39.66 L212.82,39.73 L213.04,33.14 L213.26,40.72 L213.48,34.22 L213.70,32.95 L213.92,33.86 L214.14,34.37 L214.36,38.05 L214.58,40.41 L214.80,30.43 L215.02,35.70 L215.24,40.96 L215.46,38.55 L215.68,39.74 L215.90,32.66 L216.12,41.33 L216.20,38.03 L216.34,32.36 L216.56,38.76 L216.78,43.04 L217.00,45.00 L217.00,45.00 L217.22,39.81 L217.44,40.71 L217.66,34.98 L217.80,35.00 L217.88,35.08 L218.10,40.76 L218.32,36.36 L218.54,35.72 L218.76,31.14 L218.98,36.73 L219.20,38.51 L219.42,33.36 L219.64,34.39 L219.86,41.84 L220.08,36.75 L220.30,35.00 L220.52,31.89 L220.74,33.67 L220.96,34.91 L221.18,40.59 L221.40,33.34 L221.62,41.77 L221.84,31.87 L222.06,33.71 L222.28,37.71 L222.50,33.62 L222.72,31.39 L222.94,33.77 L223.16,35.73 L223.38,27.87 L223.60,33.00 L223.82,33.38 L224.04,32.20 L224.26,36.15 L224.48,31.36 L224.70,31.97 L224.92,33.28 L225.14,35.61 L225.36,32.07 L225.58,38.13 L225.80,29.31 L226.02,37.01 L226.24,29.25 L226.46,31.63 L226.68,33.40 L226.90,39.14 L227.12,35.08 L227.34,30.32 L227.56,36.30 L227.78,30.89 L228.00,28.85 L228.22,33.31 L228.44,32.07 L228.66,35.16 L228.88,29.81 L229.10,33.23 L229.32,34.22 L229.54,33.04 L229.76,32.03 L229.98,29.73 L230.20,35.53 L230.42,32.55 L230.64,33.61 L230.86,30.34 L231.08,31.41 L231.30,27.43 L231.52,31.22 L231.74,33.52 L231.96,31.00 L232.18,33.61 L232.40,31.54 L232.62,35.17 L232.84,29.49 L233.06,24.16 L233.28,31.42 L233.50,29.13 L233.72,26.09 L233.94,31.75 L234.16,30.20 L234.38,30.64 L234.60,27.64 L234.82,29.32 L235.04,29.34 L235.26,34.69 L235.48,25.91 L235.70,28.48 L235.92,29.98 L236.14,22.67 L236.36,23.27 L236.58,36.31 L236.80,22.88 L237.02,31.14 L237.24,25.94 L237.46,26.12 L237.68,21.65 L237.90,25.40 L238.12,31.32 L238.34,23.46 L238.56,30.45 L238.78,29.35 L239.00,35.28 L239.22,26.34 L239.44,32.38 L239.66,30.83 L239.88,26.41 L240.10,21.23 L240.32,32.27 L240.54,21.70 L240.76,24.89 L240.98,29.86 L241.20,30.81 L241.42,23.92 L241.64,26.95 L241.86,26.26 L242.08,31.24 L242.30,33.94 L242.52,20.02 L242.74,29.61 L242.96,18.96 L243.18,25.93 L243.40,21.78 L243.62,32.73 L243.84,26.08 L244.06,22.72 L244.28,23.44 L244.50,23.04 L244.72,25.87 L244.94,24.74 L245.16,27.84 L245.38,31.24 L245.60,28.47 L245.60,28.47 L245.82,24.58 L246.04,26.11 L246.26,32.16 L246.48,41.58 L246.50,41.40 L246.70,34.54 L246.92,30.77 L247.14,31.00 L247.36,22.48 L247.40,22.11 L247.58,22.76 L247.80,28.45 L248.02,25.34 L248.24,24.59 L248.46,27.28 L248.68,24.34 L248.90,24.26 L249.12,25.35 L249.34,29.44 L249.56,27.78 L249.78,23.45 L250.00,26.55 L250.22,29.79 L250.44,33.99 L250.66,23.05 L250.88,28.18 L251.10,25.84 L251.32,29.49 L251.54,27.91 L251.76,31.33 L251.98,27.69 L252.20,23.65 L252.42,23.76 L252.64,27.51 L252.86,27.84 L253.08,33.95 L253.30,33.16 L253.52,23.34 L253.74,28.72 L253.96,22.38 L254.18,20.89 L254.40,29.13 L254.62,28.12 L254.84,22.10 L255.06,31.57 L255.28,22.26 L255.50,21.63 L255.72,28.20 L255.94,26.71 L256.16,25.40 L256.38,26.07 L256.60,27.50 L256.82,26.59 L257.04,26.81 L257.26,20.80 L257.48,22.93 L257.70,29.47 L257.92,24.27 L258.10,27.52 L258.14,29.68 L258.36,39.57 L258.58,41.30 L258.80,51.00 L258.80,51.00 L259.00,49.54 L259.02,50.06 L259.24,45.00 L259.46,48.70 L259.50,48.43 L259.68,53.68 L259.90,58.41 L260.00,60.40 L260.12,54.78 L260.34,44.41 L260.56,35.70 L260.78,33.66 L261.00,25.84 L261.00,25.84 L261.22,23.13 L261.44,26.45 L261.66,21.23 L261.88,27.33 L262.10,23.54 L262.32,23.37 L262.54,23.60 L262.76,23.30 L262.98,30.72 L263.20,17.73 L263.42,24.04 L263.64,27.78 L263.86,25.81 L264.08,22.23 L264.30,29.84 L264.52,20.11 L264.74,19.57 L264.96,26.58 L265.18,19.66 L265.40,17.77 L265.62,27.85 L265.84,27.18 L266.06,26.85 L266.28,22.26 L266.50,24.43 L266.72,20.38 L266.94,30.33 L267.16,27.25 L267.38,27.38 L267.60,18.05 L267.82,28.20 L268.04,30.65 L268.26,29.48 L268.48,27.78 L268.70,24.78 L268.92,23.38 L269.14,26.58 L269.36,25.77 L269.58,25.28 L269.80,23.36 L270.02,30.52 L270.24,20.36 L270.46,24.49 L270.68,22.44 L270.90,28.11 L271.12,29.45 L271.34,28.69 L271.56,26.86 L271.78,19.06 L272.00,31.12 L272.22,25.71 L272.44,23.36 L272.66,23.72 L272.88,22.32 L273.10,25.11 L273.32,25.11 L273.54,23.13 L273.76,17.68 L273.98,25.11 L274.20,27.35 L274.42,27.96 L274.64,26.17 L274.86,28.99 L275.08,31.69 L275.30,26.97 L275.52,34.54 L275.74,22.83 L275.96,25.30 L276.18,26.24 L276.40,21.91 L276.62,25.07 L276.84,32.70 L277.06,32.47 L277.28,28.75 L277.50,34.91 L277.72,29.98 L277.94,27.71 L278.16,30.71 L278.20,30.50 L278.38,30.43 L278.60,34.48 L278.82,27.41 L279.00,35.50 L279.04,36.90 L279.26,30.44 L279.48,33.90 L279.70,24.05 L279.80,25.27 L279.92,27.33 L280.14,28.87 L280.36,31.57 L280.58,23.76 L280.80,33.83 L281.02,29.55 L281.24,26.05 L281.46,32.39 L281.68,28.51 L281.90,32.39 L282.12,35.58 L282.34,31.26 L282.56,26.61 L282.78,26.94 L283.00,30.53 L283.22,29.45 L283.44,25.42 L283.66,26.08 L283.88,30.96 L284.10,35.84 L284.32,21.65 L284.54,31.50 L284.76,28.27 L284.98,31.97 L285.20,32.46 L285.42,29.72 L285.64,26.07 L285.86,24.88 L286.08,23.31 L286.30,34.16 L286.52,28.79 L286.74,27.36 L286.96,28.05 L287.18,24.01 L287.40,29.64 L287.60,33.16 L287.62,33.83 L287.84,36.94 L288.06,31.02 L288.28,45.25 L288.50,41.40 L288.50,41.40 L288.72,34.02 L288.94,33.20 L289.16,30.87 L289.38,31.03 L289.40,30.39 L289.60,27.28 L289.82,25.82 L290.04,30.38 L290.26,37.73 L290.48,27.86 L290.70,31.55 L290.90,29.86 L290.92,30.15 L291.14,41.61 L291.36,32.43 L291.58,48.32 L291.80,45.00 L291.80,45.00 L292.02,42.49 L292.24,39.29 L292.46,41.81 L292.68,26.81 L292.70,25.96 L292.90,22.04 L293.12,33.14 L293.34,25.22 L293.56,27.06 L293.78,27.56 L294.00,27.72 L294.22,26.52 L294.44,27.83 L294.66,28.01 L294.88,29.43 L295.10,24.65 L295.32,23.64 L295.54,22.87 L295.76,29.15 L295.98,27.21 L296.20,29.71 L296.42,30.01 L296.64,33.96 L296.86,28.22 L297.08,29.72 L297.30,22.28 L297.52,22.26 L297.74,24.56 L297.96,21.22 L298.18,26.59 L298.40,23.73 L298.62,25.82 L298.84,22.98 L299.06,24.37 L299.28,26.18 L299.30,26.26 L299.50,30.74 L299.72,33.36 L299.94,40.89 L300.16,46.94 L300.30,49.70 L300.38,48.39 L300.60,41.98 L300.82,37.40 L301.04,31.86 L301.26,29.77 L301.30,29.13 L301.48,29.50 L301.70,25.97 L301.92,25.02 L302.14,28.53 L302.36,30.40 L302.58,27.67 L302.80,31.87 L303.02,35.59 L303.24,34.15 L303.46,34.01 L303.68,34.04 L303.90,35.22 L304.12,32.60 L304.34,33.07 L304.56,35.59 L304.78,34.75 L305.00,36.82 L305.22,34.44 L305.44,38.99 L305.66,39.73 L305.88,38.24 L306.10,37.92 L306.32,39.52 L306.54,35.17 L306.76,34.93 L306.98,34.15 L307.20,34.52 L307.42,33.09 L307.64,34.01 L307.86,32.44 L308.08,30.71 L308.30,30.31 L308.52,34.39 L308.74,32.70 L308.96,32.61 L309.18,33.11 L309.40,33.50 L309.62,34.63 L309.84,33.72 L310.00,32.06 L310.06,33.01 L310.28,37.81 L310.50,42.56 L310.72,47.45 L310.94,57.16 L311.00,58.00 L311.16,51.85 L311.38,45.16 L311.60,41.68 L311.82,36.62 L312.00,33.72 L312.04,34.12 L312.26,32.61 L312.48,34.73 L312.70,34.60 L312.92,35.94 L313.14,37.07 L313.36,37.15 L313.58,36.47 L313.80,33.15 L314.02,34.30 L314.24,35.11 L314.46,37.51 L314.68,35.50 L314.90,35.69 L315.12,33.11 L315.34,33.60 L315.56,33.17 L315.78,30.88 L316.00,32.04 L316.22,32.33 L316.44,30.44 L316.66,31.98 L316.88,32.73 L317.10,30.33 L317.30,30.13 L317.32,30.94 L317.54,39.71 L317.76,48.48 L317.98,58.80 L318.20,67.20 L318.40,75.70 L318.42,74.90 L318.64,65.17 L318.86,54.55 L319.08,45.88 L319.30,38.17 L319.50,27.54 L319.52,27.30 L319.74,27.63 L319.96,30.64 L320.18,30.10 L320.40,27.68 L320.62,30.16 L320.84,29.00 L321.06,32.88 L321.28,30.11 L321.50,31.05 L321.72,32.89 L321.94,29.72 L322.16,32.75 L322.38,29.70 L322.60,31.41 L322.82,31.12 L323.04,31.88 L323.26,32.70 L323.48,32.83 L323.70,31.94 L323.92,34.87 L324.14,34.71 L324.36,35.57 L324.58,35.76 L324.80,31.90 L325.02,35.71 L325.24,35.78 L325.46,33.21 L325.68,35.50 L325.90,35.87 L326.12,32.42 L326.34,30.64 L326.56,31.37 L326.78,33.96 L327.00,30.66 L327.22,27.81 L327.44,28.40 L327.66,26.56 L327.88,27.35 L328.10,28.15 L328.32,25.25 L328.54,28.72 L328.76,30.33 L328.98,28.12 L329.20,26.94 L329.42,28.37 L329.64,24.58 L329.86,24.21 L330.08,23.59 L330.30,24.95 L330.52,25.72 L330.74,25.00 L330.96,25.89 L331.18,26.27 L331.40,25.77 L331.62,23.99 L331.84,25.89 L332.06,29.19 L332.28,27.04 L332.50,29.30 L332.72,30.20 L332.94,31.41 L333.16,29.84 L333.38,29.16 L333.60,33.66 L333.82,31.86 L334.04,29.27 L334.26,30.48 L334.48,32.33 L334.70,31.66 L334.92,33.83 L335.14,32.86 L335.36,34.02 L335.58,35.02 L335.80,34.76 L336.02,32.83 L336.24,36.00 L336.46,36.44 L336.68,36.37 L336.90,34.05 L337.12,35.93 L337.34,35.72 L337.50,33.64 L337.56,34.99 L337.78,42.43 L338.00,53.74 L338.22,59.08 L338.44,68.93 L338.60,75.10 L338.66,73.16 L338.88,60.93 L339.10,52.24 L339.32,44.67 L339.54,37.62 L339.70,30.11 L339.76,29.41 L339.98,32.87 L340.20,32.56 L340.42,32.14 L340.64,30.47 L340.86,32.87 L341.08,33.20 L341.30,30.55 L341.52,35.28 L341.74,32.14 L341.96,33.25 L342.18,31.60 L342.30,32.05 L342.40,34.24 L342.62,38.86 L342.84,39.57 L343.06,41.88 L343.28,47.12 L343.30,47.30 L343.50,41.82 L343.72,37.78 L343.94,33.85 L344.16,29.11 L344.30,27.27 L344.38,27.68 L344.60,23.56 L344.82,26.00 L345.04,25.25 L345.26,28.41 L345.48,30.27 L345.70,28.90 L345.92,31.75 L346.14,27.93 L346.36,25.73 L346.58,25.53 L346.80,24.42 L347.02,24.64 L347.24,25.22 L347.46,27.78 L347.68,27.72 L347.90,27.96 L348.12,27.27 L348.34,27.42 L348.56,28.87 L348.78,28.81 L349.00,28.78 L349.22,28.74 L349.44,27.75 L349.66,24.49 L349.88,25.34 L350.10,26.09 L350.32,30.04 L350.54,27.34 L350.76,29.26 L350.98,30.73 L351.20,28.95 L351.42,27.15 L351.64,26.54 L351.86,24.74 L352.08,25.88 L352.30,26.29 L352.52,24.91 L352.74,24.77 L352.96,24.25 L353.18,26.02 L353.40,22.26 L353.62,23.40 L353.84,24.24 L354.06,25.08 L354.28,20.51 L354.50,22.69 L354.70,23.16 L354.72,23.49 L354.94,25.52 L355.16,31.57 L355.38,34.11 L355.50,35.50 L355.60,33.82 L355.82,29.22 L356.04,26.84 L356.26,24.50 L356.30,24.34 L356.48,26.19 L356.70,23.98 L356.92,23.05 L357.14,23.27 L357.36,23.52 L357.58,25.77 L357.80,25.58 L358.02,21.40 L358.24,22.81 L358.46,22.84 L358.68,22.04 L358.90,19.41 L359.12,16.61 L359.34,16.68 L359.56,14.31 L359.78,18.75 L360.00,20.95 L360.22,18.62 L360.44,23.33 L360.66,25.89 L360.88,29.34 L361.10,30.66 L361.32,29.85 L361.54,27.64 L361.76,27.56 L361.90,28.65 L361.98,30.56 L362.20,30.99 L362.42,34.82 L362.64,40.13 L362.80,40.80 L362.86,39.11 L363.08,32.71 L363.30,29.99 L363.52,27.07 L363.70,22.61 L363.74,22.27 L363.96,23.50 L364.18,22.98 L364.40,19.55 L364.62,19.09 L364.84,19.12 L365.00,18.00 L365.06,18.88 L365.28,25.94 L365.50,30.09 L365.70,36.00 L365.72,35.72 L365.94,29.32 L366.16,24.49 L366.38,23.96 L366.40,23.20 L366.60,19.99 L366.82,20.71 L367.04,20.76 L367.26,21.63 L367.48,21.02 L367.70,22.53 L367.92,21.47 L368.14,20.76 L368.36,20.35 L368.58,19.31 L368.80,17.45 L369.02,14.21 L369.24,14.31 L369.46,12.84 L369.68,12.43 L369.90,9.69 L370.12,12.69 L370.34,11.10 L370.56,13.31 L370.78,12.32 L371.00,11.80 L371.22,13.44 L371.44,19.04 L371.66,18.14 L371.88,22.37 L372.10,22.46 L372.32,27.19 L372.54,25.58 L372.76,27.33 L372.98,26.77 L373.20,23.90 L373.42,24.63 L373.64,27.76 L373.86,26.18 L374.08,25.47 L374.30,28.97 L374.52,30.55 L374.74,27.27 L374.96,28.96 L375.18,26.35 L375.40,28.14 L375.62,25.49 L375.84,27.43 L376.06,26.20 L376.28,24.82 L376.50,25.08 L376.72,23.63 L376.94,22.45 L377.16,22.22 L377.38,23.33 L377.60,21.58 L377.82,23.40 L378.04,23.21 L378.26,22.81 L378.48,21.02 L378.70,21.26 L378.92,20.59 L379.14,21.96 L379.36,18.36 L379.58,18.41 L379.80,19.39 L380.02,20.87 L380.24,21.35 L380.46,22.87 L380.68,26.58 L380.90,25.56 L381.12,28.70 L381.34,30.70 L381.56,30.32 L381.78,26.46 L382.00,30.71 L382.22,30.03 L382.44,29.91 L382.66,26.61 L382.88,29.82 L383.10,26.98 L383.32,30.19 L383.54,29.67 L383.76,30.28 L383.98,26.20 L384.20,23.80 L384.42,26.70 L384.64,25.68 L384.86,23.11 L385.08,25.69 L385.30,25.01 L385.52,22.48 L385.74,24.30 L385.96,24.65 L386.18,25.62 L386.40,26.39 L386.62,25.46 L386.84,26.50 L387.06,27.96 L387.28,27.35 L387.50,27.40 L387.72,26.83 L387.94,26.61 L388.16,23.49 L388.38,25.95 L388.60,23.73 L388.82,24.91 L389.04,22.96 L389.26,26.69 L389.48,26.01 L389.70,24.04 L389.92,26.62 L390.14,25.38 L390.36,28.61 L390.58,26.27 L390.80,23.96 L391.02,24.95 L391.24,24.11 L391.46,25.53 L391.68,24.32 L391.90,24.54 L392.12,22.20 L392.34,24.93 L392.56,26.55 L392.78,24.72 L393.00,23.83 L393.22,24.19 L393.44,22.67 L393.66,24.37 L393.88,22.79 L394.10,25.04 L394.32,25.08 L394.54,25.10 L394.76,27.77 L394.98,25.47 L395.20,28.20 L395.42,26.93 L395.64,31.93 L395.86,32.57 L395.90,32.38 L396.08,32.62 L396.30,35.96 L396.52,35.94 L396.74,37.97 L396.90,38.60 L396.96,38.10 L397.18,36.97 L397.40,37.58 L397.62,35.30 L397.84,34.11 L397.90,33.99 L398.06,34.65 L398.28,32.37 L398.50,29.27 L398.72,30.14 L398.94,28.31 L399.16,27.93 L399.38,25.97 L399.60,28.50 L399.82,28.75 L400.04,23.69 L400.26,25.45 L400.48,24.62 L400.70,22.56 L400.92,24.67 L401.14,26.98 L401.36,26.61 L401.58,28.15 L401.80,24.60 L402.02,23.98 L402.24,24.59 L402.46,23.80 L402.68,22.46 L402.90,21.00 L403.12,20.17 L403.34,19.88 L403.56,21.38 L403.78,17.78 L404.00,23.00 L404.22,19.94 L404.44,18.81 L404.66,22.53 L404.88,20.64 L405.10,24.10 L405.32,23.87 L405.54,26.18 L405.76,27.05 L405.98,27.50 L406.20,24.66 L406.42,24.68 L406.64,24.81 L406.86,22.53 L407.08,25.05 L407.30,23.89 L407.52,21.29 L407.74,24.45 L407.96,24.17 L408.18,19.94 L408.40,22.37 L408.62,23.19 L408.84,22.45 L409.06,19.69 L409.28,18.95 L409.50,20.63 L409.50,20.63 L409.72,23.57 L409.94,27.99 L410.16,31.56 L410.30,34.50 L410.38,33.73 L410.60,29.16 L410.82,26.71 L411.04,26.53 L411.10,24.80 L411.26,22.64 L411.48,23.90 L411.70,23.28 L411.92,23.20 L412.14,21.60 L412.36,24.14 L412.58,23.96 L412.80,25.86 L413.02,28.16 L413.24,26.26 L413.46,27.74 L413.68,24.96 L413.90,26.17 L414.12,27.80 L414.34,25.07 L414.56,23.83 L414.78,24.61 L415.00,23.75 L415.22,23.38 L415.44,22.90 L415.66,25.90 L415.88,21.44 L416.10,21.71 L416.32,22.38 L416.54,25.86 L416.76,24.58 L416.98,27.74 L417.20,27.01 L417.42,27.52 L417.64,25.11 L417.86,28.58 L418.08,27.27 L418.30,26.73 L418.52,25.63 L418.74,24.81 L418.96,23.02 L419.18,25.62 L419.40,24.08 L419.62,22.62 L419.84,21.66 L420.06,22.31 L420.28,21.99 L420.50,24.44 L420.72,23.17 L420.94,21.19 L421.16,20.44 L421.38,21.80 L421.60,21.19 L421.82,22.97 L422.04,23.80 L422.26,24.49 L422.48,24.54 L422.70,23.67 L422.92,24.38 L423.14,21.82 L423.36,22.56 L423.58,23.41 L423.80,22.23 L424.02,20.12 L424.24,20.85 L424.46,20.75 L424.68,26.21 L424.90,21.98 L425.12,24.56 L425.34,27.57 L425.56,26.44 L425.78,26.75 L426.00,24.11 L426.22,25.99 L426.44,27.84 L426.66,24.63 L426.88,24.76 L427.10,23.20 L427.32,23.12 L427.54,23.16 L427.76,24.09 L427.98,21.51 L428.20,21.71 L428.42,24.75 L428.64,25.96 L428.86,28.64 L429.08,28.61 L429.30,26.86 L429.52,28.66 L429.74,29.54 L429.96,28.45 L430.18,27.65 L430.40,29.20 L430.62,27.98 L430.84,26.07 L431.06,30.90 L431.28,27.41 L431.50,29.03 L431.72,29.27 L431.94,29.10 L432.16,29.02 L432.38,27.22 L432.60,29.88 L432.82,29.02 L433.04,28.94 L433.26,30.56 L433.48,30.74 L433.50,30.78 L433.70,32.81 L433.92,35.43 L434.14,35.32 L434.30,34.50 L434.36,33.24 L434.58,33.54 L434.80,31.05 L435.02,28.93 L435.10,27.78 L435.24,26.88 L435.46,25.92 L435.68,27.70 L435.90,27.59 L436.12,24.24 L436.34,26.25 L436.56,24.87 L436.78,24.19 L437.00,25.45 L437.22,24.23 L437.44,23.35 L437.66,24.05 L437.88,20.95 L438.10,22.79 L438.32,23.35 L438.54,22.74 L438.76,25.75 L438.98,26.64 L439.20,26.16 L439.42,27.54 L439.64,28.66 L439.86,28.66 L440.08,25.50 L440.30,26.51 L440.52,26.95 L440.74,25.09 L440.96,24.31 L441.18,24.78 L441.40,25.88 L441.62,25.33 L441.84,30.12 L442.00,27.79 L442.06,27.40 L442.28,30.19 L442.50,31.17 L442.72,33.07 L442.80,33.00 L442.94,30.62 L443.16,27.04 L443.38,28.97 L443.60,25.23 L443.60,25.23 L443.82,26.09 L444.04,26.79 L444.26,28.88 L444.48,28.76 L444.70,29.92 L444.92,28.81 L445.14,27.24 L445.36,26.78 L445.58,24.75 L445.80,22.43 L446.02,24.33 L446.24,23.39 L446.46,28.03 L446.68,27.65 L446.90,27.34 L447.12,24.97 L447.34,28.70 L447.56,23.51 L447.78,24.32 L448.00,25.03 L448.22,24.87 L448.44,26.53 L448.66,26.77 L448.88,29.50 L449.10,28.47 L449.32,29.06 L449.54,28.19 L449.76,27.65 L449.98,27.05 L450.20,25.86 L450.42,26.76 L450.64,27.45 L450.86,29.07 L451.08,25.56 L451.30,25.97 L451.52,28.15 L451.74,26.25 L451.96,28.15 L452.18,27.00 L452.40,26.43 L452.62,25.50 L452.84,27.17 L453.06,26.16 L453.28,26.23 L453.50,26.09 L453.72,27.16 L453.94,27.16 L454.16,24.64 L454.38,27.01 L454.60,27.95 L454.82,29.01 L455.04,28.78 L455.26,28.30 L455.48,26.77 L455.70,27.70 L455.92,30.51 L456.14,28.60 L456.36,31.48 L456.58,31.44 L456.80,27.52 L457.02,29.10 L457.24,27.74 L457.46,30.19 L457.50,29.79 L457.68,29.36 L457.90,29.43 L458.12,32.84 L458.30,33.00 L458.34,32.42 L458.56,32.25 L458.78,31.49 L459.00,30.14 L459.10,29.09 L459.22,28.75 L459.44,26.17 L459.66,23.97 L459.88,25.25 L460.10,23.65 L460.32,23.19 L460.54,27.41 L460.76,26.57 L460.98,25.01 L461.20,23.57 L461.42,24.12 L461.64,26.82 L461.86,28.02 L462.08,26.27 L462.30,27.06 L462.52,27.42 L462.74,28.77 L462.96,24.72 L463.18,27.69 L463.40,28.11 L463.62,28.96 L463.84,28.23 L464.06,26.15 L464.28,26.79 L464.50,25.04 L464.72,27.10 L464.94,26.70 L465.16,26.75 L465.38,24.23 L465.60,23.84 L465.82,27.82 L466.04,26.06 L466.26,28.46 L466.48,26.75 L466.70,24.19 L466.92,27.83 L467.14,29.04 L467.36,27.22 L467.58,25.71 L467.80,30.00 L468.02,29.42 L468.24,29.98 L468.46,26.35 L468.68,29.50 L468.90,25.61 L469.12,26.86 L469.34,29.00 L469.56,24.94 L469.78,24.77 L470.00,26.67 L470.22,29.56 L470.44,29.40 L470.66,26.10 L470.88,27.88 L471.10,26.67 L471.32,25.60 L471.54,25.13 L471.76,22.97 L471.98,24.55 L472.20,24.81 L472.42,26.09 L472.64,24.48 L472.86,20.25 L473.08,21.32 L473.30,23.46 L473.52,23.20 L473.74,20.57 L473.96,23.16 L474.18,22.97 L474.40,23.54 L474.60,23.53 L474.62,23.81 L474.84,28.25 L475.06,31.97 L475.28,33.79 L475.40,34.00 L475.50,31.38 L475.72,28.54 L475.94,25.81 L476.16,24.48 L476.20,23.98 L476.38,24.26 L476.60,25.24 L476.82,25.29 L477.04,28.84 L477.26,29.03 L477.48,28.23 L477.70,25.85 L477.92,25.71 L478.14,22.85 L478.36,21.80 L478.58,22.09 L478.80,24.26 L479.02,23.76 L479.24,22.89 L479.46,25.21 L479.68,26.23 L479.90,26.08 L480.12,24.71 L480.34,25.58 L480.56,24.71 L480.78,24.68 L481.00,24.84 L481.22,26.39 L481.44,28.71 L481.66,29.12 L481.88,28.57 L482.10,27.89 L482.32,28.81 L482.54,28.85 L482.76,30.39 L482.98,25.40 L483.20,28.14 L483.20,28.14 L483.42,26.42 L483.64,30.77 L483.86,34.65 L484.00,34.00 L484.08,32.18 L484.30,28.82 L484.52,31.73 L484.74,30.22 L484.80,29.33 L484.96,28.42 L485.18,29.67 L485.40,26.90 L485.62,29.89 L485.84,30.64 L486.06,29.02 L486.28,28.39 L486.50,29.90 L486.72,29.77 L486.94,27.17 L487.16,30.27 L487.38,29.48 L487.60,28.73 L487.82,30.57 L488.04,30.24 L488.26,30.19 L488.48,28.61 L488.70,30.74 L488.92,28.16 L489.14,29.69 L489.36,27.58 L489.58,27.69 L489.80,30.89 L490.02,30.27 L490.24,30.48 L490.46,30.50 L490.68,29.45 L490.90,26.98 L491.12,27.65 L491.34,26.75 L491.56,25.56 L491.78,26.02 L492.00,25.57 L492.22,25.07 L492.44,25.41 L492.66,26.12 L492.88,28.75 L493.10,25.24 L493.32,27.74 L493.54,25.49 L493.76,30.44 L493.98,28.28 L494.20,29.24 L494.42,30.78 L494.64,30.28 L494.86,26.65 L495.08,29.49 L495.30,28.29 L495.52,29.09 L495.74,27.76 L495.96,27.92 L496.18,26.61 L496.40,25.33 L496.62,26.54 L496.84,22.87 L497.06,25.20 L497.28,25.19 L497.50,27.08 L497.72,27.41 L497.94,28.55 L498.16,28.28 L498.38,28.34 L498.60,26.68 L498.82,29.01 L499.04,29.53 L499.26,28.26 L499.48,27.60 L499.70,26.91 L499.92,29.53 L500.14,26.69 L500.36,26.30 L500.58,24.73 L500.80,24.95 L501.02,25.02 L501.24,29.09 L501.46,25.06 L501.68,28.54 L501.80,28.62 L501.90,30.23 L502.12,32.97 L502.34,34.16 L502.56,37.70 L502.78,43.94 L502.80,44.00 L503.00,38.41 L503.22,36.96 L503.44,33.43 L503.66,30.06 L503.80,28.17 L503.88,28.33 L504.10,25.69 L504.32,26.91 L504.54,28.78 L504.76,26.40 L504.98,30.98 L505.20,28.19 L505.42,29.30 L505.64,28.32 L505.86,30.62 L506.08,29.18 L506.30,30.02 L506.52,28.87 L506.74,32.34 L506.96,28.44 L507.18,31.52 L507.40,31.27 L507.62,31.62 L507.84,29.59 L508.06,32.59 L508.10,32.58 L508.28,34.46 L508.50,35.76 L508.72,38.50 L508.94,40.34 L509.10,43.00 L509.16,42.72 L509.38,38.46 L509.60,38.25 L509.82,35.64 L510.04,30.45 L510.10,29.51 L510.26,28.72 L510.48,31.16 L510.70,30.85 L510.92,32.57 L511.14,31.27 L511.36,31.20 L511.58,30.68 L511.80,33.22 L512.02,33.17 L512.24,33.04 L512.46,34.22" fill="none" stroke="#5a2399" stroke-width="0.85" stroke-linejoin="round"/>
</g>
<text x="80.6" y="104.9" font-size="9.4" text-anchor="middle" textLength="20.8" lengthAdjust="spacingAndGlyphs" fill="#000" stroke="#000" stroke-width="0.2">TiO5</text>
<text x="174.9" y="104.9" font-size="9.4" text-anchor="middle" textLength="5.9" lengthAdjust="spacingAndGlyphs" fill="#000" stroke="#000" stroke-width="0.2">K</text>
<text x="259.7" y="104.9" font-size="9.4" text-anchor="middle" textLength="12.2" lengthAdjust="spacingAndGlyphs" fill="#000" stroke="#000" stroke-width="0.2">Na</text>
<text x="330.5" y="104.9" font-size="9.4" text-anchor="middle" textLength="11.8" lengthAdjust="spacingAndGlyphs" fill="#000" stroke="#000" stroke-width="0.2">Ca</text>
<rect x="58.6" y="0.4" width="454.0" height="105.5" fill="none" stroke="#000" stroke-width="1.25"/>
<line x1="58.6" y1="105.9" x2="58.6" y2="109.6" stroke="#000" stroke-width="1"/>
<text x="58.6" y="123.1" font-size="12.6" text-anchor="middle" textLength="26.7" lengthAdjust="spacingAndGlyphs">0.70</text>
<line x1="142.7" y1="105.9" x2="142.7" y2="109.6" stroke="#000" stroke-width="1"/>
<text x="142.7" y="123.1" font-size="12.6" text-anchor="middle" textLength="26.7" lengthAdjust="spacingAndGlyphs">0.75</text>
<line x1="226.8" y1="105.9" x2="226.8" y2="109.6" stroke="#000" stroke-width="1"/>
<text x="226.8" y="123.1" font-size="12.6" text-anchor="middle" textLength="26.7" lengthAdjust="spacingAndGlyphs">0.80</text>
<line x1="310.9" y1="105.9" x2="310.9" y2="109.6" stroke="#000" stroke-width="1"/>
<text x="310.9" y="123.1" font-size="12.6" text-anchor="middle" textLength="26.7" lengthAdjust="spacingAndGlyphs">0.85</text>
<line x1="395.0" y1="105.9" x2="395.0" y2="109.6" stroke="#000" stroke-width="1"/>
<text x="395.0" y="123.1" font-size="12.6" text-anchor="middle" textLength="26.7" lengthAdjust="spacingAndGlyphs">0.90</text>
<line x1="479.1" y1="105.9" x2="479.1" y2="109.6" stroke="#000" stroke-width="1"/>
<text x="479.1" y="123.1" font-size="12.6" text-anchor="middle" textLength="26.7" lengthAdjust="spacingAndGlyphs">0.95</text>
<line x1="54.9" y1="23.6" x2="58.6" y2="23.6" stroke="#000" stroke-width="1"/>
<text x="50.8" y="28.2" font-size="12.6" text-anchor="end" textLength="19.1" lengthAdjust="spacingAndGlyphs">1.6</text>
<line x1="54.9" y1="61.4" x2="58.6" y2="61.4" stroke="#000" stroke-width="1"/>
<text x="50.8" y="66.0" font-size="12.6" text-anchor="end" textLength="19.1" lengthAdjust="spacingAndGlyphs">1.2</text>
<line x1="54.9" y1="99.2" x2="58.6" y2="99.2" stroke="#000" stroke-width="1"/>
<text x="50.8" y="103.8" font-size="12.6" text-anchor="end" textLength="19.1" lengthAdjust="spacingAndGlyphs">0.8</text>
<clipPath id="c1"><rect x="58.6" y="132.4" width="454.0" height="105.6"/></clipPath>
<g clip-path="url(#c1)">
<rect x="147.5" y="132.4" width="23.30" height="105.6" fill="#acacac"/>
<path d="M58.50,141.81V148.28M59.00,141.55V148.84M60.00,150.79V157.72M61.00,155.73V161.01M61.40,162.83V168.33M62.70,179.30V186.52M64.20,151.74V156.36M65.20,132.19V139.25M65.60,136.06V143.05M67.00,148.43V154.44M67.50,151.99V157.50M68.40,150.99V156.43M69.80,153.11V158.47M70.30,154.11V160.04M71.20,157.14V163.25M72.60,164.29V170.55M72.80,165.88V173.46M74.00,155.82V162.80M75.40,144.15V150.61M76.00,138.17V145.73M76.80,144.91V150.16M78.20,154.32V159.40M79.20,161.35V167.78M79.60,161.14V165.88M81.00,157.26V161.96M81.70,157.92V164.07M82.40,155.46V161.46M83.80,154.22V161.58M84.50,151.58V158.07M85.20,145.42V151.56M86.60,133.17V139.26M86.80,134.47V139.81M88.00,140.34V144.97M89.30,147.61V152.79M90.80,162.33V169.00M92.10,176.23V181.43M93.60,161.67V167.38M95.00,148.77V153.38M95.00,148.60V155.69M96.40,149.13V154.20M96.50,150.87V156.27M97.80,188.45V195.69M98.20,202.05V208.18M99.20,178.67V185.81M100.00,162.51V169.03M100.60,157.01V163.83M101.60,152.15V157.03M102.00,149.72V155.95M103.40,147.46V153.58M104.80,144.81V152.03M105.00,147.97V153.65M106.20,145.20V151.59M107.60,146.11V150.88M109.00,143.70V149.46M109.20,141.76V147.32M110.40,146.77V151.82M111.80,147.04V154.09M113.00,150.79V156.53M114.60,145.17V152.71M116.00,142.04V148.41M116.70,140.48V146.89M117.40,141.76V148.27M118.80,145.97V152.60M120.20,147.37V152.42M121.60,149.15V155.07M122.40,154.17V159.49M123.00,150.48V156.28M124.40,151.13V156.02M125.80,148.77V156.27M127.20,149.21V154.46M128.60,146.85V153.47M129.00,148.80V154.30M130.00,149.16V156.38M131.40,151.52V158.11M131.90,153.47V158.47M132.80,150.16V157.29M134.20,149.04V156.48M135.60,143.35V150.66M135.70,145.50V151.81M137.00,147.54V152.58M138.40,147.51V152.68M139.80,149.51V156.89M141.20,154.68V160.94M141.40,154.97V160.11M142.60,153.27V160.52M144.00,157.62V164.14M144.20,156.98V163.29M145.40,156.48V162.21M146.00,151.53V157.36M146.80,148.43V153.75M148.20,146.93V151.64M148.80,141.17V148.40M149.60,147.79V153.79M151.00,157.99V164.23M151.60,164.58V170.14M152.40,167.04V173.89M153.50,173.16V177.83M155.20,175.02V180.74M156.40,179.25V183.94M158.00,182.56V187.52M159.20,184.61V192.11M160.80,180.18V186.75M162.00,178.51V184.40M163.60,178.66V184.83M164.00,181.03V188.25M165.00,177.28V182.91M166.40,166.65V173.02M166.80,165.21V171.86M167.80,163.12V168.79M168.70,160.10V166.26M169.20,160.91V167.80M170.60,172.38V179.70M170.60,174.60V179.65M172.00,167.62V175.02M173.40,163.31V167.92M173.40,162.04V168.90M174.80,163.39V170.42M176.20,163.17V168.18M177.20,167.68V173.53M177.60,164.54V171.59M179.00,159.80V164.44M180.40,155.72V162.20M181.00,155.29V162.27M181.80,157.74V163.88M183.20,162.87V169.65M183.80,167.28V172.56M184.60,164.81V170.00M186.00,158.91V164.60M186.70,157.90V163.04M187.40,157.09V162.73M188.80,160.42V167.87M190.20,161.48V167.80M191.40,164.96V170.58M193.00,157.37V162.78M194.40,156.20V163.66M195.20,153.67V159.60M195.80,155.52V163.06M197.20,158.88V165.03M198.00,163.01V169.18M198.60,160.44V167.73M200.00,157.67V164.49M200.90,156.04V162.38M201.40,159.17V165.05M202.80,155.56V162.79M204.20,152.40V158.23M205.60,149.85V157.22M205.60,151.96V156.77M207.00,152.57V158.46M208.40,149.37V155.52M209.80,151.86V159.31M210.40,152.70V158.05M211.20,154.25V161.27M212.60,165.09V171.72M214.00,172.97V179.72M214.20,175.74V182.23M215.40,166.51V174.02M216.80,161.67V167.26M218.00,155.76V161.55M219.60,165.97V171.18M220.80,173.80V178.55M222.40,171.15V176.38M223.80,164.69V172.04M224.60,162.85V169.97M225.20,164.29V169.23M226.60,162.87V169.28M228.00,163.22V169.26M228.40,161.65V168.03M229.40,156.66V163.24M230.30,153.63V159.15M230.80,152.06V159.55M232.00,158.14V164.14M233.60,153.12V159.60M234.80,148.53V155.03M236.40,161.61V166.76M237.70,171.91V176.70M239.20,160.59V166.42M240.50,154.93V161.82M242.00,153.52V160.57M243.40,151.08V157.87M243.40,153.69V158.62M244.80,147.00V154.34M245.60,145.03V152.03M246.20,148.19V155.42M247.60,163.90V170.07M248.10,168.09V175.44M249.00,169.39V174.13M250.40,165.20V169.89M250.90,159.73V164.39M251.80,159.84V165.20M253.20,155.50V160.84M253.80,154.55V159.71M254.60,153.86V160.16M256.00,160.68V165.40M256.60,159.76V166.14M257.40,160.56V165.65M258.80,163.86V170.50M260.20,163.44V168.10M260.40,165.83V171.36M261.60,167.39V174.81M263.00,173.67V179.89M264.20,179.05V186.08M265.80,168.73V175.30M267.20,162.74V169.17M268.00,158.93V164.11M268.60,160.10V166.42M270.00,167.64V172.35M271.40,170.92V177.93M271.80,174.76V182.24M272.80,170.18V177.34M274.20,164.46V169.21M275.60,161.18V166.80M275.60,158.70V164.26M277.00,164.52V169.45M278.40,168.19V174.67M279.40,169.06V176.06M279.80,169.18V174.72M281.20,173.28V180.46M282.60,175.03V182.02M283.20,173.49V178.47M284.00,170.86V177.76M285.40,169.01V176.25M286.80,167.89V173.09M287.00,168.50V174.82M288.20,169.20V175.72M289.60,170.40V176.83M290.70,169.04V173.93M292.40,166.25V172.83M293.80,162.88V169.37M294.50,160.39V167.46M295.20,163.65V170.66M296.60,172.56V178.14M297.90,179.95V186.72M299.40,169.15V176.35M300.80,160.50V167.78M301.20,158.64V163.72M302.20,164.22V168.90M303.60,167.07V173.62M304.00,167.95V173.20M305.00,166.30V172.59M306.40,162.15V169.58M307.80,160.77V166.51M307.80,162.05V167.41M309.20,161.20V167.17M310.60,163.83V170.40M311.60,164.22V169.13M312.00,168.81V174.56M313.40,175.33V180.33M314.80,180.14V186.73M314.80,180.28V187.37M316.20,175.51V181.24M317.60,170.53V176.24M318.20,168.62V174.84M319.00,172.01V177.26M320.40,171.98V177.32M321.80,172.61V178.20M321.80,172.99V178.96M323.20,171.92V176.76M324.60,171.74V178.60M325.60,168.57V174.90M326.00,170.11V175.61M327.40,171.28V176.11M328.80,170.38V177.27M329.40,173.86V178.85M330.20,170.02V175.02M331.60,167.71V172.70M333.00,164.00V168.85M333.20,165.16V172.48M334.40,163.67V169.08M335.80,163.75V169.27M337.00,160.32V167.42M338.60,158.20V164.66M339.80,158.81V163.97M341.40,163.52V169.43M342.60,165.52V172.78M344.20,167.53V173.26M345.60,171.82V178.55M346.40,171.16V176.05M347.00,172.49V179.27M348.40,172.28V179.20M349.30,173.52V180.59M349.80,171.58V178.20M351.20,171.09V176.80M352.50,165.81V170.61M354.00,201.20V207.36M355.40,228.77V235.64M355.50,233.13V238.31M356.80,202.07V207.47M358.20,169.33V175.54M358.20,167.56V174.40M359.60,164.01V171.30M361.00,159.57V164.55M361.60,158.77V163.92M362.40,160.89V167.89M363.80,161.08V167.61M365.20,164.82V171.58M365.40,163.85V171.44M366.60,164.25V171.67M368.00,164.92V172.05M369.20,168.39V175.32M370.80,169.54V175.32M372.20,168.89V175.42M373.60,170.58V175.73M374.80,171.87V178.75M376.40,178.62V185.49M377.80,186.25V193.02M379.00,192.11V198.04M380.60,180.20V185.94M382.00,171.87V177.73M382.40,169.43V174.13M383.40,164.65V171.79M384.80,162.01V168.24M385.30,162.00V167.77M386.20,161.33V167.58M387.60,161.77V168.53M389.00,162.08V167.82M389.00,163.27V170.36M390.40,170.25V177.61M391.80,176.30V182.06M393.20,187.23V192.24M393.40,187.83V194.71M394.60,180.33V187.91M396.00,171.83V176.87M396.60,167.70V174.44M397.40,167.82V174.89M398.80,168.30V175.66M400.20,172.53V177.50M401.40,175.26V180.14M403.00,169.18V176.75M404.40,166.21V171.16M405.50,163.82V168.95M407.20,164.73V171.05M408.60,165.03V170.97M409.20,167.69V174.54M410.00,172.07V177.24M411.40,182.32V189.66M412.80,190.36V195.61M413.00,189.91V196.82M414.20,189.23V194.04M415.60,181.13V187.15M416.50,181.63V186.33M417.00,178.88V184.42M418.40,178.95V184.49M419.80,174.03V180.79M420.70,175.49V181.46M421.20,178.50V183.27M422.60,180.16V187.75M424.00,187.49V194.76M425.40,190.84V198.19M426.00,194.75V200.09M426.80,184.29V190.07M428.00,169.84V175.12M429.60,176.80V181.77M431.00,184.82V189.52M432.20,193.07V199.18M433.80,187.70V192.67M435.20,181.61V186.74M436.60,174.93V182.11M437.50,173.94V180.00M438.00,173.50V178.65M439.40,172.14V178.75M440.80,175.00V180.40M442.20,171.92V178.10M442.70,174.69V180.14M443.60,174.80V180.95M445.00,176.61V183.09M446.40,178.76V184.97M447.80,181.10V186.89M449.00,182.64V189.61M450.60,182.39V189.61M452.00,180.53V185.67M453.40,179.98V184.99M454.80,182.70V187.64M455.30,178.55V186.08M456.20,178.08V185.50M457.60,180.54V185.83M459.00,179.14V186.65M460.40,178.87V184.09M461.60,176.31V182.43M463.20,184.86V190.95M464.60,194.64V201.99M466.00,202.91V207.63M466.40,204.34V209.89M467.40,195.44V201.84M468.80,188.58V193.38M470.20,179.20V184.51M471.60,174.03V180.03M472.00,168.32V175.57M473.00,171.22V178.11M474.40,176.94V184.03M475.80,179.70V186.58M477.20,185.33V192.05M477.30,187.02V194.17M478.60,185.36V192.00M480.00,181.11V187.91M481.40,182.74V188.25M482.50,179.55V184.65M484.20,181.42V188.29M485.60,183.38V188.48M487.00,186.82V194.18M488.40,186.40V192.79M488.80,189.05V194.64M489.80,186.17V193.58M491.20,185.50V190.57M492.60,180.51V186.66M494.00,180.77V185.64M495.10,179.64V187.14M496.80,186.69V193.02M498.20,191.64V198.65M499.60,198.60V204.05M501.00,205.69V212.69M501.40,209.43V216.14M502.40,199.66V206.19M503.80,189.53V196.98M505.20,182.97V188.87M505.60,181.10V186.95M506.60,183.63V190.30M508.00,190.75V197.85M508.70,193.33V198.93M509.40,184.85V191.46M510.80,170.29V175.51M510.80,168.75V175.00M512.20,177.19V184.09M512.50,178.70V183.49" stroke="#48c8ff" stroke-width="1.3" fill="none"/>
<path d="M58.50,145.05 L59.00,145.19 L60.00,154.26 L61.00,158.37 L61.40,165.58 L62.70,182.91 L64.20,154.05 L65.20,135.72 L65.60,139.56 L67.00,151.43 L67.50,154.75 L68.40,153.71 L69.80,155.79 L70.30,157.08 L71.20,160.20 L72.60,167.42 L72.80,169.67 L74.00,159.31 L75.40,147.38 L76.00,141.95 L76.80,147.53 L78.20,156.86 L79.20,164.56 L79.60,163.51 L81.00,159.61 L81.70,161.00 L82.40,158.46 L83.80,157.90 L84.50,154.83 L85.20,148.49 L86.60,136.22 L86.80,137.14 L88.00,142.66 L89.30,150.20 L90.80,165.66 L92.10,178.83 L93.60,164.52 L95.00,151.07 L95.00,152.15 L96.40,151.67 L96.50,153.57 L97.80,192.07 L98.20,205.12 L99.20,182.24 L100.00,165.77 L100.60,160.42 L101.60,154.59 L102.00,152.84 L103.40,150.52 L104.80,148.42 L105.00,150.81 L106.20,148.40 L107.60,148.50 L109.00,146.58 L109.20,144.54 L110.40,149.29 L111.80,150.57 L113.00,153.66 L114.60,148.94 L116.00,145.22 L116.70,143.69 L117.40,145.01 L118.80,149.28 L120.20,149.90 L121.60,152.11 L122.40,156.83 L123.00,153.38 L124.40,153.58 L125.80,152.52 L127.20,151.84 L128.60,150.16 L129.00,151.55 L130.00,152.77 L131.40,154.82 L131.90,155.97 L132.80,153.73 L134.20,152.76 L135.60,147.01 L135.70,148.66 L137.00,150.06 L138.40,150.09 L139.80,153.20 L141.20,157.81 L141.40,157.54 L142.60,156.89 L144.00,160.88 L144.20,160.14 L145.40,159.34 L146.00,154.44 L146.80,151.09 L148.20,149.28 L148.80,144.78 L149.60,150.79 L151.00,161.11 L151.60,167.36 L152.40,170.46 L153.50,175.49 L155.20,177.88 L156.40,181.59 L158.00,185.04 L159.20,188.36 L160.80,183.47 L162.00,181.45 L163.60,181.74 L164.00,184.64 L165.00,180.10 L166.40,169.84 L166.80,168.54 L167.80,165.95 L168.70,163.18 L169.20,164.36 L170.60,176.04 L170.60,177.13 L172.00,171.32 L173.40,165.61 L173.40,165.47 L174.80,166.91 L176.20,165.67 L177.20,170.61 L177.60,168.06 L179.00,162.12 L180.40,158.96 L181.00,158.78 L181.80,160.81 L183.20,166.26 L183.80,169.92 L184.60,167.40 L186.00,161.76 L186.70,160.47 L187.40,159.91 L188.80,164.15 L190.20,164.64 L191.40,167.77 L193.00,160.08 L194.40,159.93 L195.20,156.64 L195.80,159.29 L197.20,161.96 L198.00,166.09 L198.60,164.08 L200.00,161.08 L200.90,159.21 L201.40,162.11 L202.80,159.18 L204.20,155.32 L205.60,153.53 L205.60,154.36 L207.00,155.51 L208.40,152.45 L209.80,155.58 L210.40,155.38 L211.20,157.76 L212.60,168.41 L214.00,176.35 L214.20,178.99 L215.40,170.26 L216.80,164.46 L218.00,158.65 L219.60,168.58 L220.80,176.17 L222.40,173.77 L223.80,168.37 L224.60,166.41 L225.20,166.76 L226.60,166.08 L228.00,166.24 L228.40,164.84 L229.40,159.95 L230.30,156.39 L230.80,155.81 L232.00,161.14 L233.60,156.36 L234.80,151.78 L236.40,164.18 L237.70,174.31 L239.20,163.51 L240.50,158.37 L242.00,157.04 L243.40,154.47 L243.40,156.15 L244.80,150.67 L245.60,148.53 L246.20,151.81 L247.60,166.98 L248.10,171.76 L249.00,171.76 L250.40,167.55 L250.90,162.06 L251.80,162.52 L253.20,158.17 L253.80,157.13 L254.60,157.01 L256.00,163.04 L256.60,162.95 L257.40,163.10 L258.80,167.18 L260.20,165.77 L260.40,168.60 L261.60,171.10 L263.00,176.78 L264.20,182.57 L265.80,172.02 L267.20,165.95 L268.00,161.52 L268.60,163.26 L270.00,169.99 L271.40,174.43 L271.80,178.50 L272.80,173.76 L274.20,166.83 L275.60,163.99 L275.60,161.48 L277.00,166.99 L278.40,171.43 L279.40,172.56 L279.80,171.95 L281.20,176.87 L282.60,178.53 L283.20,175.98 L284.00,174.31 L285.40,172.63 L286.80,170.49 L287.00,171.66 L288.20,172.46 L289.60,173.62 L290.70,171.48 L292.40,169.54 L293.80,166.13 L294.50,163.93 L295.20,167.15 L296.60,175.35 L297.90,183.33 L299.40,172.75 L300.80,164.14 L301.20,161.18 L302.20,166.56 L303.60,170.34 L304.00,170.57 L305.00,169.44 L306.40,165.87 L307.80,163.64 L307.80,164.73 L309.20,164.18 L310.60,167.12 L311.60,166.68 L312.00,171.68 L313.40,177.83 L314.80,183.43 L314.80,183.83 L316.20,178.37 L317.60,173.39 L318.20,171.73 L319.00,174.64 L320.40,174.65 L321.80,175.41 L321.80,175.98 L323.20,174.34 L324.60,175.17 L325.60,171.74 L326.00,172.86 L327.40,173.69 L328.80,173.83 L329.40,176.35 L330.20,172.52 L331.60,170.20 L333.00,166.43 L333.20,168.82 L334.40,166.37 L335.80,166.51 L337.00,163.87 L338.60,161.43 L339.80,161.39 L341.40,166.47 L342.60,169.15 L344.20,170.40 L345.60,175.19 L346.40,173.60 L347.00,175.88 L348.40,175.74 L349.30,177.06 L349.80,174.89 L351.20,173.95 L352.50,168.21 L354.00,204.28 L355.40,232.20 L355.50,235.72 L356.80,204.77 L358.20,172.44 L358.20,170.98 L359.60,167.66 L361.00,162.06 L361.60,161.34 L362.40,164.39 L363.80,164.34 L365.20,168.20 L365.40,167.65 L366.60,167.96 L368.00,168.49 L369.20,171.86 L370.80,172.43 L372.20,172.15 L373.60,173.15 L374.80,175.31 L376.40,182.05 L377.80,189.64 L379.00,195.08 L380.60,183.07 L382.00,174.80 L382.40,171.78 L383.40,168.22 L384.80,165.12 L385.30,164.88 L386.20,164.45 L387.60,165.15 L389.00,164.95 L389.00,166.81 L390.40,173.93 L391.80,179.18 L393.20,189.74 L393.40,191.27 L394.60,184.12 L396.00,174.35 L396.60,171.07 L397.40,171.36 L398.80,171.98 L400.20,175.01 L401.40,177.70 L403.00,172.97 L404.40,168.68 L405.50,166.39 L407.20,167.89 L408.60,168.00 L409.20,171.11 L410.00,174.65 L411.40,185.99 L412.80,192.98 L413.00,193.37 L414.20,191.63 L415.60,184.14 L416.50,183.98 L417.00,181.65 L418.40,181.72 L419.80,177.41 L420.70,178.48 L421.20,180.88 L422.60,183.95 L424.00,191.12 L425.40,194.52 L426.00,197.42 L426.80,187.18 L428.00,172.48 L429.60,179.28 L431.00,187.17 L432.20,196.13 L433.80,190.19 L435.20,184.18 L436.60,178.52 L437.50,176.97 L438.00,176.07 L439.40,175.45 L440.80,177.70 L442.20,175.01 L442.70,177.42 L443.60,177.87 L445.00,179.85 L446.40,181.86 L447.80,183.99 L449.00,186.12 L450.60,186.00 L452.00,183.10 L453.40,182.49 L454.80,185.17 L455.30,182.32 L456.20,181.79 L457.60,183.19 L459.00,182.90 L460.40,181.48 L461.60,179.37 L463.20,187.90 L464.60,198.32 L466.00,205.27 L466.40,207.12 L467.40,198.64 L468.80,190.98 L470.20,181.85 L471.60,177.03 L472.00,171.95 L473.00,174.67 L474.40,180.48 L475.80,183.14 L477.20,188.69 L477.30,190.60 L478.60,188.68 L480.00,184.51 L481.40,185.50 L482.50,182.10 L484.20,184.86 L485.60,185.93 L487.00,190.50 L488.40,189.59 L488.80,191.85 L489.80,189.87 L491.20,188.04 L492.60,183.59 L494.00,183.21 L495.10,183.39 L496.80,189.86 L498.20,195.15 L499.60,201.32 L501.00,209.19 L501.40,212.78 L502.40,202.92 L503.80,193.25 L505.20,185.92 L505.60,184.03 L506.60,186.96 L508.00,194.30 L508.70,196.13 L509.40,188.16 L510.80,172.90 L510.80,171.88 L512.20,180.64 L512.50,181.09" fill="none" stroke="#1478f0" stroke-width="1.4" stroke-linejoin="round"/>
</g>
<text x="159.0" y="233.5" font-size="9.4" text-anchor="middle" textLength="17.5" lengthAdjust="spacingAndGlyphs" fill="#000" stroke="#000" stroke-width="0.2">FeH</text>
<rect x="58.6" y="132.4" width="454.0" height="105.6" fill="none" stroke="#000" stroke-width="1.25"/>
<line x1="104.5" y1="238.0" x2="104.5" y2="241.7" stroke="#000" stroke-width="1"/>
<text x="104.5" y="255.2" font-size="12.6" text-anchor="middle" textLength="26.7" lengthAdjust="spacingAndGlyphs">0.98</text>
<line x1="196.3" y1="238.0" x2="196.3" y2="241.7" stroke="#000" stroke-width="1"/>
<text x="196.7" y="255.2" font-size="12.6" text-anchor="middle" textLength="25.8" lengthAdjust="spacingAndGlyphs">1.00</text>
<line x1="288.1" y1="238.0" x2="288.1" y2="241.7" stroke="#000" stroke-width="1"/>
<text x="288.5" y="255.2" font-size="12.6" text-anchor="middle" textLength="25.8" lengthAdjust="spacingAndGlyphs">1.02</text>
<line x1="379.9" y1="238.0" x2="379.9" y2="241.7" stroke="#000" stroke-width="1"/>
<text x="380.3" y="255.2" font-size="12.6" text-anchor="middle" textLength="25.8" lengthAdjust="spacingAndGlyphs">1.04</text>
<line x1="471.7" y1="238.0" x2="471.7" y2="241.7" stroke="#000" stroke-width="1"/>
<text x="472.1" y="255.2" font-size="12.6" text-anchor="middle" textLength="25.8" lengthAdjust="spacingAndGlyphs">1.06</text>
<line x1="54.9" y1="156.1" x2="58.6" y2="156.1" stroke="#000" stroke-width="1"/>
<text x="50.8" y="160.7" font-size="12.6" text-anchor="end" textLength="26.7" lengthAdjust="spacingAndGlyphs">1.50</text>
<line x1="54.9" y1="205.4" x2="58.6" y2="205.4" stroke="#000" stroke-width="1"/>
<text x="50.8" y="210.0" font-size="12.6" text-anchor="end" textLength="26.7" lengthAdjust="spacingAndGlyphs">1.35</text>
<clipPath id="c2"><rect x="58.6" y="264.2" width="454.0" height="105.40000000000003"/></clipPath>
<g clip-path="url(#c2)">
<rect x="76.6" y="264.2" width="8.40" height="105.40000000000003" fill="#acacac"/>
<rect x="92.3" y="264.2" width="6.50" height="105.40000000000003" fill="#acacac"/>
<rect x="109.1" y="264.2" width="6.80" height="105.40000000000003" fill="#acacac"/>
<rect x="134.9" y="264.2" width="5.10" height="105.40000000000003" fill="#acacac"/>
<rect x="264.0" y="264.2" width="8.00" height="105.40000000000003" fill="#acacac"/>
<rect x="290.6" y="264.2" width="6.40" height="105.40000000000003" fill="#acacac"/>
<rect x="460.1" y="264.2" width="14.70" height="105.40000000000003" fill="#acacac"/>
<path d="M58.50,268.08V271.94M60.20,268.10V270.53M61.80,268.02V272.34M63.30,266.63V269.96M65.00,266.20V269.42M66.60,268.31V272.15M66.90,268.90V272.35M68.20,269.69V273.56M69.50,274.56V277.13M71.40,267.55V271.08M72.20,266.75V270.27M73.00,266.56V270.83M74.60,266.61V269.09M74.90,266.66V269.97M76.20,272.33V275.99M77.50,278.49V281.99M79.40,292.74V295.29M79.80,296.94V300.53M81.00,288.76V291.60M82.00,280.06V282.85M82.60,280.20V284.35M83.70,287.81V290.60M84.20,283.32V286.63M85.80,277.34V281.24M86.40,277.30V281.12M87.40,275.33V278.84M89.00,273.03V277.04M90.60,272.82V276.15M90.80,269.79V273.43M92.20,275.24V279.28M93.50,277.17V280.93M95.40,309.23V312.91M95.80,318.47V321.68M97.00,302.61V306.13M98.60,277.93V281.12M98.80,276.32V280.21M100.20,274.37V277.53M101.80,274.60V277.94M103.30,273.04V276.96M105.00,273.84V277.24M105.90,277.45V280.53M106.60,277.71V281.77M108.20,281.39V284.55M108.60,282.21V286.30M109.80,294.28V298.25M111.30,312.58V315.88M113.00,292.42V296.24M113.90,279.53V282.00M114.60,281.04V284.22M116.20,277.05V281.17M117.80,275.75V279.31M118.40,273.87V277.38M119.40,276.75V280.48M121.00,276.87V280.63M121.90,279.95V283.52M122.60,277.83V281.07M124.20,278.77V281.54M125.80,277.75V280.73M126.30,278.41V281.40M127.40,280.32V283.58M129.00,284.85V289.25M129.90,290.44V293.54M130.60,287.53V290.82M132.20,280.46V283.61M133.80,275.06V278.62M134.30,270.09V274.39M135.40,286.03V290.21M137.00,303.80V306.96M137.40,311.70V314.64M138.60,300.52V304.69M140.20,288.40V291.79M140.60,286.41V290.18M141.80,283.96V286.51M143.40,279.98V284.11M145.00,274.68V277.71M146.60,275.99V279.38M148.20,275.62V278.41M148.60,275.88V279.12M149.80,277.72V281.78M151.40,282.95V287.01M153.00,283.58V286.93M154.60,279.16V283.10M155.70,276.92V280.23M156.20,278.21V281.36M157.80,278.21V281.70M159.40,277.39V280.19M161.00,275.25V278.29M162.60,276.06V279.87M164.20,276.57V280.51M164.50,274.93V277.44M165.80,284.53V288.40M167.40,293.19V297.23M168.10,298.68V301.97M169.00,294.31V296.83M170.60,284.73V288.49M171.60,279.04V281.93M172.20,279.50V283.19M173.80,280.49V283.64M175.20,283.05V286.72M177.00,280.87V283.79M178.60,280.84V284.20M180.20,279.91V283.36M180.50,280.46V284.12M181.80,279.68V282.49M183.40,277.78V282.10M185.00,280.48V283.46M186.60,279.51V282.52M187.60,281.61V284.52M188.20,280.74V283.27M189.80,280.89V284.14M191.40,282.99V286.94M192.90,281.71V285.52M194.60,281.63V284.42M196.20,281.28V283.95M197.80,281.17V284.21M199.40,278.92V282.86M200.00,280.68V284.06M201.00,282.82V287.06M202.60,283.75V287.46M203.60,285.66V289.30M204.20,286.98V290.91M205.80,288.58V292.48M207.40,290.60V293.69M208.00,291.67V294.58M209.00,290.33V293.60M210.60,286.33V289.71M212.20,285.60V288.28M213.30,283.49V286.78M213.80,283.40V287.08M215.40,286.30V288.97M217.00,286.67V289.34M217.80,288.35V291.10M218.60,288.39V291.35M220.20,286.53V290.85M221.80,289.23V291.68M223.10,289.32V292.09M225.00,290.80V293.53M226.60,288.54V291.89M228.20,289.56V291.99M228.40,290.39V293.70M229.80,288.89V291.62M231.40,288.13V291.06M232.00,285.81V289.79M233.00,286.10V288.86M234.60,288.58V292.21M236.20,286.58V289.80M237.30,286.41V289.65M237.80,287.23V291.26M239.40,290.45V293.18M240.90,291.49V295.73M242.60,292.06V296.25M244.20,293.18V296.92M245.80,290.34V292.84M246.20,290.63V294.36M247.40,291.42V295.02M249.00,291.79V295.73M250.60,292.52V295.35M251.50,288.56V292.87M252.20,289.54V293.71M253.80,290.39V293.02M255.40,286.05V289.08M257.00,287.09V289.56M257.70,284.30V288.36M258.60,287.41V291.64M260.20,289.83V294.21M261.80,290.65V294.28M262.20,289.17V292.90M263.40,289.06V292.82M265.00,290.05V293.59M265.50,291.10V295.40M266.60,295.07V298.69M267.50,301.67V304.74M268.20,296.84V300.26M269.50,289.94V292.37M271.10,289.91V293.76M273.00,287.74V291.53M274.60,287.59V290.83M275.50,288.20V292.31M276.20,288.03V291.94M277.80,291.09V294.16M279.40,291.98V294.54M279.90,291.14V293.81M281.00,292.66V295.43M282.60,294.89V297.90M284.20,294.44V297.73M285.30,295.95V300.20M285.80,291.59V294.54M287.40,287.27V291.46M287.90,287.49V291.25M289.00,289.91V294.02M290.60,294.12V297.32M292.20,306.89V309.29M293.20,314.37V318.34M293.80,309.88V312.77M295.40,297.94V300.62M295.90,293.73V297.72M297.00,293.66V297.44M298.60,292.10V294.93M299.50,292.84V295.78M300.20,292.51V296.79M301.80,295.04V297.97M303.00,294.43V298.23M303.40,293.10V295.76M305.00,293.16V297.19M306.60,293.92V296.56M308.20,291.66V295.09M308.30,292.08V294.55M309.80,292.38V295.88M311.40,293.80V297.89M313.00,297.70V300.27M313.70,296.01V298.95M314.60,298.82V302.75M316.20,299.83V303.45M317.20,300.95V303.98M317.80,297.08V300.73M319.40,295.62V298.93M320.80,296.66V300.78M321.60,294.55V297.54M322.60,295.43V299.35M324.20,298.87V302.54M325.80,302.67V306.55M326.00,301.60V304.76M327.40,300.32V304.17M329.00,298.55V302.35M330.60,296.66V299.84M331.30,293.42V295.87M332.20,296.91V301.23M333.80,298.56V302.38M334.90,300.96V303.77M335.40,302.81V306.67M337.00,308.38V311.34M337.90,313.82V317.16M338.60,305.89V310.01M340.20,295.81V299.10M341.80,294.62V297.59M343.40,296.21V299.22M345.00,297.47V300.02M345.50,297.26V300.10M346.60,295.59V298.53M348.20,299.02V301.76M349.80,301.65V304.18M350.00,298.96V302.29M351.40,301.38V304.21M353.00,303.53V307.41M354.60,305.03V309.28M355.30,305.35V308.30M356.20,304.54V308.08M357.80,302.60V306.01M359.40,299.78V302.33M360.60,299.22V301.87M361.00,298.79V302.96M362.60,302.02V305.37M364.20,303.40V307.41M365.80,305.90V308.43M365.90,305.87V309.46M367.40,304.06V308.19M369.00,297.91V302.04M369.50,297.53V299.94M370.60,296.52V299.97M372.20,299.70V302.84M373.00,299.80V303.72M373.80,298.58V301.12M375.40,300.09V303.02M376.00,299.90V303.93M377.00,307.24V310.58M378.00,312.39V315.70M378.60,310.61V314.94M380.20,302.44V305.48M381.00,301.82V304.30M381.80,301.89V305.07M383.40,307.19V309.90M385.00,311.07V313.63M385.10,311.21V314.75M386.60,307.61V311.92M388.20,306.54V310.10M389.00,305.37V309.07M389.80,303.38V306.43M391.40,302.30V305.84M392.60,302.18V306.09M393.00,303.65V307.23M394.60,305.72V309.73M395.20,310.34V313.84M396.20,306.18V308.98M397.80,299.84V303.40M397.90,299.61V302.99M399.40,314.07V316.80M400.50,322.83V326.47M401.00,318.26V322.29M402.60,309.50V312.17M403.20,306.19V309.68M404.20,306.52V310.39M405.80,305.55V308.75M405.90,303.16V306.10M407.40,305.01V308.15M409.00,308.71V312.19M410.60,308.73V312.50M411.30,310.11V313.63M412.20,310.55V313.16M413.80,308.54V312.58M415.40,308.00V312.25M417.00,307.36V309.96M417.60,305.78V308.68M418.60,305.82V308.57M420.20,308.24V312.34M421.80,304.83V309.05M423.40,308.33V310.82M425.00,308.92V311.98M426.00,306.84V309.63M426.60,306.21V309.55M428.20,307.85V312.09M429.80,309.28V311.82M431.40,310.48V313.22M432.20,310.45V313.83M433.00,312.39V315.84M434.60,309.47V313.36M436.20,313.00V316.27M437.80,310.31V312.99M438.50,313.42V316.53M439.40,310.28V314.65M441.00,311.34V315.25M442.60,308.78V311.41M444.20,309.10V313.11M445.80,309.83V312.86M446.90,308.78V312.74M447.40,310.26V312.68M449.00,307.27V311.41M450.60,309.09V311.81M452.20,309.78V313.09M453.80,307.69V311.41M454.20,310.80V314.22M455.40,310.36V313.09M457.00,310.74V313.42M458.60,311.47V314.44M459.50,313.79V316.30M460.20,314.96V317.79M461.60,322.75V325.41M463.40,351.29V354.61M464.10,362.37V365.49M465.00,344.09V347.66M466.20,317.55V320.51M466.60,321.84V324.31M467.20,325.19V328.25M468.20,317.69V321.60M468.50,316.61V319.52M469.80,331.97V335.18M471.40,352.02V355.93M471.60,356.17V359.38M473.00,331.50V335.68M474.10,310.55V314.78M474.60,311.42V314.44M476.20,312.92V316.79M477.80,314.24V317.15M479.40,311.49V314.17M480.40,311.32V314.59M481.00,314.08V317.69M482.60,314.00V318.27M484.20,315.73V318.43M485.80,317.12V320.94M487.40,319.01V322.36M488.80,317.92V320.58M490.60,319.39V323.74M492.20,318.85V322.64M493.80,316.67V319.33M495.40,315.28V319.50M497.00,314.58V317.18M497.20,315.62V318.21M498.60,313.76V316.83M500.20,314.06V318.34M501.80,316.02V318.49M503.40,313.42V317.66M503.50,314.87V318.49M505.00,309.67V312.21M506.60,308.07V311.61M507.20,304.08V307.40M508.20,310.38V313.91M509.80,321.76V325.63M511.40,322.74V326.50M512.50,323.43V327.83" stroke="#86e89a" stroke-width="1.0" fill="none"/>
<path d="M58.50,270.01 L60.20,269.31 L61.80,270.18 L63.30,268.30 L65.00,267.81 L66.60,270.23 L66.90,270.62 L68.20,271.63 L69.50,275.84 L71.40,269.32 L72.20,268.51 L73.00,268.69 L74.60,267.85 L74.90,268.31 L76.20,274.16 L77.50,280.24 L79.40,294.01 L79.80,298.73 L81.00,290.18 L82.00,281.45 L82.60,282.28 L83.70,289.20 L84.20,284.98 L85.80,279.29 L86.40,279.21 L87.40,277.08 L89.00,275.04 L90.60,274.49 L90.80,271.61 L92.20,277.26 L93.50,279.05 L95.40,311.07 L95.80,320.08 L97.00,304.37 L98.60,279.53 L98.80,278.27 L100.20,275.95 L101.80,276.27 L103.30,275.00 L105.00,275.54 L105.90,278.99 L106.60,279.74 L108.20,282.97 L108.60,284.25 L109.80,296.27 L111.30,314.23 L113.00,294.33 L113.90,280.77 L114.60,282.63 L116.20,279.11 L117.80,277.53 L118.40,275.63 L119.40,278.61 L121.00,278.75 L121.90,281.74 L122.60,279.45 L124.20,280.15 L125.80,279.24 L126.30,279.91 L127.40,281.95 L129.00,287.05 L129.90,291.99 L130.60,289.18 L132.20,282.04 L133.80,276.84 L134.30,272.24 L135.40,288.12 L137.00,305.38 L137.40,313.17 L138.60,302.61 L140.20,290.10 L140.60,288.29 L141.80,285.23 L143.40,282.04 L145.00,276.19 L146.60,277.68 L148.20,277.02 L148.60,277.50 L149.80,279.75 L151.40,284.98 L153.00,285.26 L154.60,281.13 L155.70,278.57 L156.20,279.78 L157.80,279.96 L159.40,278.79 L161.00,276.77 L162.60,277.96 L164.20,278.54 L164.50,276.19 L165.80,286.46 L167.40,295.21 L168.10,300.32 L169.00,295.57 L170.60,286.61 L171.60,280.48 L172.20,281.35 L173.80,282.06 L175.20,284.88 L177.00,282.33 L178.60,282.52 L180.20,281.63 L180.50,282.29 L181.80,281.08 L183.40,279.94 L185.00,281.97 L186.60,281.01 L187.60,283.07 L188.20,282.00 L189.80,282.52 L191.40,284.96 L192.90,283.61 L194.60,283.02 L196.20,282.62 L197.80,282.69 L199.40,280.89 L200.00,282.37 L201.00,284.94 L202.60,285.60 L203.60,287.48 L204.20,288.95 L205.80,290.53 L207.40,292.14 L208.00,293.13 L209.00,291.96 L210.60,288.02 L212.20,286.94 L213.30,285.13 L213.80,285.24 L215.40,287.64 L217.00,288.00 L217.80,289.73 L218.60,289.87 L220.20,288.69 L221.80,290.45 L223.10,290.70 L225.00,292.17 L226.60,290.21 L228.20,290.77 L228.40,292.05 L229.80,290.26 L231.40,289.60 L232.00,287.80 L233.00,287.48 L234.60,290.40 L236.20,288.19 L237.30,288.03 L237.80,289.24 L239.40,291.81 L240.90,293.61 L242.60,294.15 L244.20,295.05 L245.80,291.59 L246.20,292.49 L247.40,293.22 L249.00,293.76 L250.60,293.94 L251.50,290.72 L252.20,291.63 L253.80,291.70 L255.40,287.56 L257.00,288.33 L257.70,286.33 L258.60,289.52 L260.20,292.02 L261.80,292.47 L262.20,291.03 L263.40,290.94 L265.00,291.82 L265.50,293.25 L266.60,296.88 L267.50,303.21 L268.20,298.55 L269.50,291.15 L271.10,291.83 L273.00,289.63 L274.60,289.21 L275.50,290.26 L276.20,289.98 L277.80,292.62 L279.40,293.26 L279.90,292.48 L281.00,294.05 L282.60,296.39 L284.20,296.08 L285.30,298.07 L285.80,293.07 L287.40,289.36 L287.90,289.37 L289.00,291.96 L290.60,295.72 L292.20,308.09 L293.20,316.36 L293.80,311.33 L295.40,299.28 L295.90,295.72 L297.00,295.55 L298.60,293.52 L299.50,294.31 L300.20,294.65 L301.80,296.50 L303.00,296.33 L303.40,294.43 L305.00,295.17 L306.60,295.24 L308.20,293.37 L308.30,293.32 L309.80,294.13 L311.40,295.84 L313.00,298.98 L313.70,297.48 L314.60,300.78 L316.20,301.64 L317.20,302.46 L317.80,298.91 L319.40,297.28 L320.80,298.72 L321.60,296.04 L322.60,297.39 L324.20,300.70 L325.80,304.61 L326.00,303.18 L327.40,302.24 L329.00,300.45 L330.60,298.25 L331.30,294.64 L332.20,299.07 L333.80,300.47 L334.90,302.37 L335.40,304.74 L337.00,309.86 L337.90,315.49 L338.60,307.95 L340.20,297.45 L341.80,296.10 L343.40,297.72 L345.00,298.75 L345.50,298.68 L346.60,297.06 L348.20,300.39 L349.80,302.92 L350.00,300.62 L351.40,302.79 L353.00,305.47 L354.60,307.16 L355.30,306.82 L356.20,306.31 L357.80,304.31 L359.40,301.06 L360.60,300.55 L361.00,300.87 L362.60,303.69 L364.20,305.41 L365.80,307.16 L365.90,307.66 L367.40,306.13 L369.00,299.97 L369.50,298.73 L370.60,298.24 L372.20,301.27 L373.00,301.76 L373.80,299.85 L375.40,301.56 L376.00,301.91 L377.00,308.91 L378.00,314.05 L378.60,312.77 L380.20,303.96 L381.00,303.06 L381.80,303.48 L383.40,308.54 L385.00,312.35 L385.10,312.98 L386.60,309.76 L388.20,308.32 L389.00,307.22 L389.80,304.91 L391.40,304.07 L392.60,304.14 L393.00,305.44 L394.60,307.72 L395.20,312.09 L396.20,307.58 L397.80,301.62 L397.90,301.30 L399.40,315.43 L400.50,324.65 L401.00,320.28 L402.60,310.84 L403.20,307.94 L404.20,308.46 L405.80,307.15 L405.90,304.63 L407.40,306.58 L409.00,310.45 L410.60,310.61 L411.30,311.87 L412.20,311.86 L413.80,310.56 L415.40,310.12 L417.00,308.66 L417.60,307.23 L418.60,307.19 L420.20,310.29 L421.80,306.94 L423.40,309.58 L425.00,310.45 L426.00,308.23 L426.60,307.88 L428.20,309.97 L429.80,310.55 L431.40,311.85 L432.20,312.14 L433.00,314.12 L434.60,311.41 L436.20,314.63 L437.80,311.65 L438.50,314.98 L439.40,312.47 L441.00,313.29 L442.60,310.10 L444.20,311.11 L445.80,311.35 L446.90,310.76 L447.40,311.47 L449.00,309.34 L450.60,310.45 L452.20,311.44 L453.80,309.55 L454.20,312.51 L455.40,311.72 L457.00,312.08 L458.60,312.96 L459.50,315.04 L460.20,316.37 L461.60,324.08 L463.40,352.95 L464.10,363.93 L465.00,345.87 L466.20,319.03 L466.60,323.07 L467.20,326.72 L468.20,319.64 L468.50,318.07 L469.80,333.57 L471.40,353.98 L471.60,357.78 L473.00,333.59 L474.10,312.67 L474.60,312.93 L476.20,314.86 L477.80,315.70 L479.40,312.83 L480.40,312.96 L481.00,315.88 L482.60,316.13 L484.20,317.08 L485.80,319.03 L487.40,320.69 L488.80,319.25 L490.60,321.56 L492.20,320.75 L493.80,318.00 L495.40,317.39 L497.00,315.88 L497.20,316.91 L498.60,315.29 L500.20,316.20 L501.80,317.25 L503.40,315.54 L503.50,316.68 L505.00,310.94 L506.60,309.84 L507.20,305.74 L508.20,312.14 L509.80,323.69 L511.40,324.62 L512.50,325.63" fill="none" stroke="#22bd44" stroke-width="1.3" stroke-linejoin="round"/>
</g>
<text x="81.0" y="359.3" font-size="9.4" text-anchor="middle" textLength="23.6" lengthAdjust="spacingAndGlyphs" fill="#000" stroke="#000" stroke-width="0.2">K&amp;Fe</text>
<text x="95.5" y="366.9" font-size="9.4" text-anchor="middle" textLength="13.5" lengthAdjust="spacingAndGlyphs" fill="#000" stroke="#000" stroke-width="0.2">Mg</text>
<text x="112.5" y="366.9" font-size="9.4" text-anchor="middle" textLength="10.7" lengthAdjust="spacingAndGlyphs" fill="#000" stroke="#000" stroke-width="0.2">Fe</text>
<text x="137.4" y="366.9" font-size="9.4" text-anchor="middle" textLength="10.7" lengthAdjust="spacingAndGlyphs" fill="#000" stroke="#000" stroke-width="0.2">Fe</text>
<text x="268.2" y="366.9" font-size="9.4" text-anchor="middle" textLength="5.9" lengthAdjust="spacingAndGlyphs" fill="#000" stroke="#000" stroke-width="0.2">K</text>
<text x="293.8" y="366.9" font-size="9.4" text-anchor="middle" textLength="5.9" lengthAdjust="spacingAndGlyphs" fill="#000" stroke="#000" stroke-width="0.2">K</text>
<text x="467.4" y="366.9" font-size="9.4" text-anchor="middle" textLength="8.7" lengthAdjust="spacingAndGlyphs" fill="#000" stroke="#000" stroke-width="0.2">Al</text>
<rect x="58.6" y="264.2" width="454.0" height="105.40000000000003" fill="none" stroke="#000" stroke-width="1.25"/>
<line x1="86.5" y1="369.6" x2="86.5" y2="373.3" stroke="#000" stroke-width="1"/>
<text x="86.9" y="386.8" font-size="12.6" text-anchor="middle" textLength="25.8" lengthAdjust="spacingAndGlyphs">1.18</text>
<line x1="143.4" y1="369.6" x2="143.4" y2="373.3" stroke="#000" stroke-width="1"/>
<text x="143.8" y="386.8" font-size="12.6" text-anchor="middle" textLength="25.8" lengthAdjust="spacingAndGlyphs">1.20</text>
<line x1="200.3" y1="369.6" x2="200.3" y2="373.3" stroke="#000" stroke-width="1"/>
<text x="200.7" y="386.8" font-size="12.6" text-anchor="middle" textLength="25.8" lengthAdjust="spacingAndGlyphs">1.22</text>
<line x1="257.2" y1="369.6" x2="257.2" y2="373.3" stroke="#000" stroke-width="1"/>
<text x="257.6" y="386.8" font-size="12.6" text-anchor="middle" textLength="25.8" lengthAdjust="spacingAndGlyphs">1.24</text>
<line x1="314.1" y1="369.6" x2="314.1" y2="373.3" stroke="#000" stroke-width="1"/>
<text x="314.5" y="386.8" font-size="12.6" text-anchor="middle" textLength="25.8" lengthAdjust="spacingAndGlyphs">1.26</text>
<line x1="371.0" y1="369.6" x2="371.0" y2="373.3" stroke="#000" stroke-width="1"/>
<text x="371.4" y="386.8" font-size="12.6" text-anchor="middle" textLength="25.8" lengthAdjust="spacingAndGlyphs">1.28</text>
<line x1="427.9" y1="369.6" x2="427.9" y2="373.3" stroke="#000" stroke-width="1"/>
<text x="428.3" y="386.8" font-size="12.6" text-anchor="middle" textLength="25.8" lengthAdjust="spacingAndGlyphs">1.30</text>
<line x1="484.8" y1="369.6" x2="484.8" y2="373.3" stroke="#000" stroke-width="1"/>
<text x="485.2" y="386.8" font-size="12.6" text-anchor="middle" textLength="25.8" lengthAdjust="spacingAndGlyphs">1.32</text>
<line x1="54.9" y1="284.0" x2="58.6" y2="284.0" stroke="#000" stroke-width="1"/>
<text x="50.8" y="288.6" font-size="12.6" text-anchor="end" textLength="26.7" lengthAdjust="spacingAndGlyphs">1.20</text>
<line x1="54.9" y1="323.0" x2="58.6" y2="323.0" stroke="#000" stroke-width="1"/>
<text x="50.8" y="327.6" font-size="12.6" text-anchor="end" textLength="26.7" lengthAdjust="spacingAndGlyphs">1.05</text>
<line x1="54.9" y1="362.1" x2="58.6" y2="362.1" stroke="#000" stroke-width="1"/>
<text x="50.8" y="366.7" font-size="12.6" text-anchor="end" textLength="26.7" lengthAdjust="spacingAndGlyphs">0.90</text>
<clipPath id="c3"><rect x="58.6" y="396.0" width="454.0" height="105.30000000000001"/></clipPath>
<g clip-path="url(#c3)">
<rect x="77.0" y="396.0" width="7.00" height="105.30000000000001" fill="#acacac"/>
<rect x="97.5" y="396.0" width="7.20" height="105.30000000000001" fill="#acacac"/>
<rect x="189.5" y="396.0" width="7.20" height="105.30000000000001" fill="#acacac"/>
<rect x="210.9" y="396.0" width="8.60" height="105.30000000000001" fill="#acacac"/>
<rect x="260.0" y="396.0" width="5.70" height="105.30000000000001" fill="#acacac"/>
<rect x="340.2" y="396.0" width="12.50" height="105.30000000000001" fill="#acacac"/>
<rect x="402.0" y="396.0" width="6.00" height="105.30000000000001" fill="#acacac"/>
<path d="M58.50,414.51V416.33M59.00,412.47V415.21M60.00,406.24V408.41M60.30,400.71V403.41M61.40,403.23V406.07M62.80,403.57V406.56M63.70,406.18V408.15M64.20,403.54V405.78M65.60,404.03V406.95M67.00,401.58V404.50M67.50,402.63V404.75M68.40,400.21V403.12M69.80,399.40V401.57M71.20,399.54V401.66M71.30,399.82V402.48M72.60,398.70V400.96M74.00,401.34V403.56M75.10,401.80V403.94M76.80,407.87V410.07M77.00,410.45V412.25M78.20,444.09V445.78M78.50,452.69V455.34M79.60,427.90V430.29M79.80,421.76V424.30M81.00,437.23V439.95M81.70,446.02V447.94M82.40,434.14V436.06M83.60,415.17V417.16M85.20,406.05V408.07M85.50,403.98V406.65M86.60,404.66V406.78M88.00,404.38V406.43M89.30,404.46V406.95M90.80,402.61V404.48M92.10,400.78V402.53M93.60,404.45V407.03M95.00,404.84V407.50M95.00,405.76V407.77M96.40,408.18V410.67M97.80,411.07V412.72M97.80,412.33V414.50M99.20,402.75V405.16M99.30,400.43V402.39M100.60,415.18V417.27M100.80,416.83V419.28M102.00,411.21V413.64M103.40,405.82V407.63M103.50,407.39V409.97M104.80,403.67V405.39M105.40,399.64V402.60M106.20,403.47V405.35M107.60,404.95V406.90M108.20,409.39V411.27M109.00,406.82V409.81M110.40,406.82V408.83M111.00,404.26V406.71M111.80,405.88V408.87M113.20,408.57V411.50M113.90,412.58V414.24M114.60,409.78V412.11M116.00,408.50V410.94M116.70,409.17V411.75M117.40,411.36V413.43M118.80,413.93V415.99M120.20,418.08V419.69M120.50,420.56V422.21M121.60,412.57V414.94M123.00,406.96V408.67M123.40,406.46V408.35M124.40,409.74V411.81M125.80,412.27V413.96M127.20,416.33V417.97M127.20,417.97V420.87M128.60,412.92V415.13M130.00,406.99V408.88M131.00,404.02V406.61M131.40,406.90V408.52M132.80,421.99V423.93M133.20,424.71V427.66M134.20,423.09V425.95M135.60,418.17V420.66M136.60,418.10V419.83M137.00,417.59V419.63M138.40,420.04V421.68M139.50,420.82V422.73M141.20,423.06V424.70M142.30,423.53V425.31M144.00,413.89V416.38M145.20,405.83V407.57M146.80,414.31V416.13M146.90,413.80V416.66M148.20,409.95V412.01M149.60,404.61V406.68M149.70,403.20V404.92M151.00,409.64V412.36M152.40,414.72V417.26M153.50,419.22V421.58M155.20,409.51V411.98M156.40,403.92V405.66M158.00,414.07V416.04M159.20,420.79V423.21M160.80,414.70V417.64M162.00,412.05V414.79M163.60,415.73V418.23M164.90,421.05V423.38M166.40,415.00V416.62M167.70,409.09V411.94M169.20,414.21V415.91M170.60,415.56V417.34M171.50,417.53V420.10M172.00,416.08V418.82M173.40,412.63V415.33M174.80,410.57V412.80M175.30,409.08V410.92M176.20,411.45V413.10M177.60,413.77V416.57M179.00,415.19V418.16M179.10,416.84V418.79M180.40,418.40V421.21M181.80,421.39V423.56M182.90,420.85V422.88M184.60,416.69V419.00M185.70,415.01V416.62M187.10,430.18V432.40M188.80,425.95V427.83M190.20,420.41V423.01M190.50,419.33V421.63M191.60,429.31V432.12M192.40,436.02V438.88M193.00,438.31V440.36M194.40,448.02V450.02M194.80,449.85V452.76M195.80,439.34V441.64M197.20,423.56V425.30M198.00,416.20V417.86M198.60,415.67V418.66M200.00,412.99V415.40M201.40,414.99V416.66M201.80,412.21V414.53M202.80,420.20V422.50M204.20,425.35V427.56M204.70,429.92V432.85M205.60,424.43V427.36M207.00,421.08V422.85M208.40,417.10V418.92M208.50,417.07V419.25M209.80,420.29V423.05M211.20,425.60V428.07M211.30,424.44V427.06M212.60,438.88V441.28M214.00,452.16V454.05M214.20,455.50V458.25M215.40,445.41V447.03M216.80,431.82V434.40M217.00,431.77V433.65M218.20,424.48V426.74M219.60,421.28V424.24M220.80,416.04V418.40M222.40,419.09V420.77M223.80,423.25V425.45M225.20,426.92V429.44M225.50,427.57V429.25M226.60,425.21V427.17M228.00,419.99V421.61M229.40,415.44V417.80M230.30,413.22V415.35M230.80,414.53V416.83M232.00,419.33V421.34M233.60,417.28V419.80M234.80,415.98V417.82M236.40,423.02V425.89M237.70,430.24V433.19M239.20,423.55V425.84M240.50,415.99V418.24M242.00,423.66V426.46M242.40,428.40V430.40M243.40,421.14V423.87M244.80,416.66V418.67M244.90,416.89V419.50M246.20,422.84V424.91M247.60,431.95V434.39M248.10,431.61V434.51M249.00,433.74V435.42M250.40,428.31V431.04M250.90,429.81V432.17M251.80,425.55V427.68M253.20,421.77V423.86M253.80,419.38V421.07M254.60,429.68V431.64M255.70,446.47V448.94M257.40,428.42V430.16M258.50,414.13V416.66M260.20,429.92V432.87M261.60,440.61V443.58M262.30,448.65V451.49M263.00,441.24V443.97M264.40,433.09V434.94M265.20,427.77V430.73M265.80,426.17V428.06M267.20,423.78V426.60M268.00,422.88V425.71M268.60,426.90V429.37M269.90,436.37V438.70M271.40,428.32V430.20M272.80,424.36V426.69M273.70,419.41V421.42M274.20,421.15V422.93M275.60,421.32V423.10M277.00,421.82V424.55M278.40,423.30V426.19M278.40,421.14V422.94M279.80,430.00V431.62M280.90,432.95V434.92M282.60,426.71V428.50M284.00,418.16V420.02M284.10,418.19V420.61M285.40,423.38V425.57M286.80,432.11V434.31M286.90,431.09V432.98M288.20,427.14V429.67M289.60,423.89V425.90M289.80,421.81V423.97M291.00,428.49V430.74M292.40,432.91V435.78M293.80,440.68V442.63M294.50,442.77V445.37M295.20,440.80V442.83M296.60,433.56V436.41M298.00,426.70V428.85M298.30,426.04V428.35M299.40,434.61V437.43M300.80,444.26V446.80M301.20,445.24V446.97M302.20,439.60V441.39M303.60,431.12V434.11M304.90,425.68V427.32M306.40,430.99V433.01M307.80,438.59V441.53M307.80,438.01V439.63M309.20,426.97V428.79M309.70,420.54V422.44M310.60,426.25V427.97M312.00,429.44V431.70M313.40,433.77V436.20M314.40,438.20V440.24M314.80,438.61V440.37M316.20,429.68V432.42M317.30,424.94V427.67M319.00,425.85V428.24M320.30,423.04V424.83M321.80,431.16V433.52M322.70,435.40V437.88M323.20,433.68V435.88M324.60,430.21V433.02M325.60,424.54V426.69M326.00,426.78V429.09M327.40,431.53V433.29M328.40,435.00V437.39M328.80,434.21V436.88M330.20,429.16V431.78M331.30,427.63V429.59M333.00,436.74V439.73M334.10,443.16V445.77M335.80,436.75V438.94M336.90,431.49V433.67M338.60,434.05V436.74M339.80,434.36V436.21M341.40,440.49V442.99M341.70,440.75V443.36M342.80,455.98V458.30M344.00,469.56V472.39M345.60,449.83V452.09M346.40,439.02V441.27M347.00,449.61V451.61M348.40,471.45V474.34M348.90,481.06V483.11M349.80,469.53V472.10M351.20,456.14V458.31M351.20,455.77V458.68M352.60,440.65V443.58M353.10,436.76V438.41M354.00,437.11V440.10M355.40,438.42V440.86M355.90,439.01V440.72M356.80,440.78V443.08M358.20,442.53V444.20M358.70,445.11V447.48M359.60,443.06V444.92M361.00,441.83V443.95M362.40,440.77V442.80M362.50,440.01V442.45M363.80,438.84V441.59M365.20,436.43V439.34M365.40,437.30V439.36M366.60,447.30V449.69M367.30,451.60V453.21M368.00,450.76V452.88M369.40,448.30V451.25M370.10,445.19V446.96M370.80,447.06V449.88M372.20,454.40V456.92M372.60,457.64V459.66M373.60,448.81V451.50M374.80,439.36V441.36M376.40,440.20V443.06M377.80,438.06V439.78M378.60,437.32V439.08M379.20,436.77V439.42M380.60,440.60V442.83M382.00,445.05V446.86M383.40,445.53V447.85M383.40,446.78V448.80M384.80,445.98V448.35M386.20,441.78V444.42M387.60,442.81V445.61M388.10,441.21V442.90M389.00,442.55V444.98M390.40,444.21V447.19M391.80,443.83V446.07M392.80,445.36V448.04M393.20,445.36V447.09M394.60,449.00V451.82M395.70,452.14V454.55M397.40,453.61V456.46M398.50,454.49V457.19M400.20,452.83V455.64M401.40,449.40V451.08M403.00,473.88V476.48M404.40,496.98V498.85M404.40,496.02V497.99M405.80,473.24V475.29M407.20,453.49V455.91M407.30,452.69V455.17M408.60,449.68V452.58M410.00,452.26V453.87M411.00,448.88V450.75M411.40,452.30V454.40M412.80,452.61V455.35M414.20,453.41V455.78M415.60,454.87V457.18M415.60,455.57V458.23M417.00,454.22V456.74M418.40,453.32V455.32M419.00,452.89V454.62M419.80,452.85V455.10M421.20,455.88V458.71M422.60,458.55V460.98M423.60,463.09V464.76M424.00,460.16V462.38M425.40,460.04V462.18M426.80,456.25V458.67M428.10,456.38V458.80M429.60,456.18V459.11M431.00,457.52V459.60M432.40,458.96V461.13M432.70,457.56V460.02M433.80,461.07V463.91M435.20,465.03V467.62M436.60,467.76V470.02M437.30,468.65V471.39M438.00,468.75V471.03M439.40,468.23V471.18M440.80,465.09V467.09M442.20,467.47V469.25M443.00,464.81V467.58M443.60,466.43V468.44M445.00,463.07V465.86M446.40,463.67V466.12M447.80,464.32V466.63M448.70,464.46V466.18M449.20,465.79V468.49M450.60,466.06V467.75M452.00,466.95V469.90M453.30,469.92V472.74M454.80,465.45V467.47M456.20,464.84V466.62M457.60,459.00V461.84M457.90,457.88V460.15M459.00,461.22V462.99M460.40,461.08V463.38M461.80,464.85V466.80M463.20,463.55V465.72M463.60,465.06V467.55M464.60,466.37V469.25M466.00,467.79V470.51M467.40,468.51V470.34M468.80,471.43V473.70M469.30,470.77V473.06M470.20,469.80V472.79M471.60,472.65V474.37M473.00,469.75V472.06M474.40,468.32V471.20M475.00,468.26V470.42M475.80,472.04V474.00M477.20,473.48V475.86M478.60,474.95V477.00M480.00,476.35V479.25M480.70,476.13V477.85M481.40,476.85V478.74M482.80,477.09V478.81M484.20,474.76V477.36M485.30,476.33V478.35M487.00,471.52V474.38M488.40,466.86V469.71M488.70,466.40V469.32M489.80,469.30V471.26M491.00,475.41V477.01M492.60,477.75V479.89M494.00,479.91V482.85M494.90,483.43V486.09M495.40,483.02V484.70M496.80,477.09V479.67M497.90,476.53V479.41M499.60,479.86V482.81M501.00,485.27V487.88M501.30,487.01V489.82M502.40,482.14V484.92M503.80,480.41V482.51M504.70,478.62V480.36M505.20,480.48V483.10M506.60,484.36V486.15M508.00,484.87V487.00M509.30,487.87V490.86M510.80,481.26V483.65M511.60,479.21V481.54M512.20,479.01V481.94M512.50,479.41V481.41" stroke="#f0a23a" stroke-width="1.0" fill="none"/>
<path d="M58.50,415.42 L59.00,413.84 L60.00,407.32 L60.30,402.06 L61.40,404.65 L62.80,405.06 L63.70,407.17 L64.20,404.66 L65.60,405.49 L67.00,403.04 L67.50,403.69 L68.40,401.66 L69.80,400.48 L71.20,400.60 L71.30,401.15 L72.60,399.83 L74.00,402.45 L75.10,402.87 L76.80,408.97 L77.00,411.35 L78.20,444.94 L78.50,454.02 L79.60,429.10 L79.80,423.03 L81.00,438.59 L81.70,446.98 L82.40,435.10 L83.60,416.17 L85.20,407.06 L85.50,405.32 L86.60,405.72 L88.00,405.40 L89.30,405.71 L90.80,403.54 L92.10,401.66 L93.60,405.74 L95.00,406.17 L95.00,406.76 L96.40,409.42 L97.80,411.89 L97.80,413.42 L99.20,403.96 L99.30,401.41 L100.60,416.23 L100.80,418.06 L102.00,412.42 L103.40,406.73 L103.50,408.68 L104.80,404.53 L105.40,401.12 L106.20,404.41 L107.60,405.93 L108.20,410.33 L109.00,408.32 L110.40,407.82 L111.00,405.48 L111.80,407.38 L113.20,410.04 L113.90,413.41 L114.60,410.95 L116.00,409.72 L116.70,410.46 L117.40,412.39 L118.80,414.96 L120.20,418.88 L120.50,421.38 L121.60,413.76 L123.00,407.81 L123.40,407.40 L124.40,410.77 L125.80,413.12 L127.20,417.15 L127.20,419.42 L128.60,414.03 L130.00,407.93 L131.00,405.32 L131.40,407.71 L132.80,422.96 L133.20,426.19 L134.20,424.52 L135.60,419.42 L136.60,418.96 L137.00,418.61 L138.40,420.86 L139.50,421.77 L141.20,423.88 L142.30,424.42 L144.00,415.14 L145.20,406.70 L146.80,415.22 L146.90,415.23 L148.20,410.98 L149.60,405.64 L149.70,404.06 L151.00,411.00 L152.40,415.99 L153.50,420.40 L155.20,410.75 L156.40,404.79 L158.00,415.06 L159.20,422.00 L160.80,416.17 L162.00,413.42 L163.60,416.98 L164.90,422.22 L166.40,415.81 L167.70,410.52 L169.20,415.06 L170.60,416.45 L171.50,418.81 L172.00,417.45 L173.40,413.98 L174.80,411.68 L175.30,410.00 L176.20,412.28 L177.60,415.17 L179.00,416.68 L179.10,417.82 L180.40,419.81 L181.80,422.48 L182.90,421.86 L184.60,417.85 L185.70,415.82 L187.10,431.29 L188.80,426.89 L190.20,421.71 L190.50,420.48 L191.60,430.72 L192.40,437.45 L193.00,439.34 L194.40,449.02 L194.80,451.30 L195.80,440.49 L197.20,424.43 L198.00,417.03 L198.60,417.17 L200.00,414.20 L201.40,415.83 L201.80,413.37 L202.80,421.35 L204.20,426.45 L204.70,431.38 L205.60,425.89 L207.00,421.96 L208.40,418.01 L208.50,418.16 L209.80,421.67 L211.20,426.83 L211.30,425.75 L212.60,440.08 L214.00,453.10 L214.20,456.88 L215.40,446.22 L216.80,433.11 L217.00,432.71 L218.20,425.61 L219.60,422.76 L220.80,417.22 L222.40,419.93 L223.80,424.35 L225.20,428.18 L225.50,428.41 L226.60,426.19 L228.00,420.80 L229.40,416.62 L230.30,414.29 L230.80,415.68 L232.00,420.33 L233.60,418.54 L234.80,416.90 L236.40,424.46 L237.70,431.71 L239.20,424.70 L240.50,417.11 L242.00,425.06 L242.40,429.40 L243.40,422.50 L244.80,417.66 L244.90,418.19 L246.20,423.88 L247.60,433.17 L248.10,433.06 L249.00,434.58 L250.40,429.68 L250.90,430.99 L251.80,426.62 L253.20,422.82 L253.80,420.22 L254.60,430.66 L255.70,447.71 L257.40,429.29 L258.50,415.40 L260.20,431.40 L261.60,442.09 L262.30,450.07 L263.00,442.61 L264.40,434.02 L265.20,429.25 L265.80,427.12 L267.20,425.19 L268.00,424.29 L268.60,428.13 L269.90,437.54 L271.40,429.26 L272.80,425.53 L273.70,420.41 L274.20,422.04 L275.60,422.21 L277.00,423.19 L278.40,424.74 L278.40,422.04 L279.80,430.81 L280.90,433.94 L282.60,427.61 L284.00,419.09 L284.10,419.40 L285.40,424.47 L286.80,433.21 L286.90,432.04 L288.20,428.40 L289.60,424.89 L289.80,422.89 L291.00,429.61 L292.40,434.34 L293.80,441.65 L294.50,444.07 L295.20,441.81 L296.60,434.98 L298.00,427.77 L298.30,427.20 L299.40,436.02 L300.80,445.53 L301.20,446.10 L302.20,440.50 L303.60,432.62 L304.90,426.50 L306.40,432.00 L307.80,440.06 L307.80,438.82 L309.20,427.88 L309.70,421.49 L310.60,427.11 L312.00,430.57 L313.40,434.98 L314.40,439.22 L314.80,439.49 L316.20,431.05 L317.30,426.30 L319.00,427.04 L320.30,423.93 L321.80,432.34 L322.70,436.64 L323.20,434.78 L324.60,431.61 L325.60,425.62 L326.00,427.93 L327.40,432.41 L328.40,436.19 L328.80,435.54 L330.20,430.47 L331.30,428.61 L333.00,438.23 L334.10,444.47 L335.80,437.84 L336.90,432.58 L338.60,435.40 L339.80,435.29 L341.40,441.74 L341.70,442.05 L342.80,457.14 L344.00,470.98 L345.60,450.96 L346.40,440.15 L347.00,450.61 L348.40,472.89 L348.90,482.09 L349.80,470.82 L351.20,457.22 L351.20,457.23 L352.60,442.12 L353.10,437.59 L354.00,438.61 L355.40,439.64 L355.90,439.87 L356.80,441.93 L358.20,443.36 L358.70,446.30 L359.60,443.99 L361.00,442.89 L362.40,441.78 L362.50,441.23 L363.80,440.22 L365.20,437.89 L365.40,438.33 L366.60,448.50 L367.30,452.41 L368.00,451.82 L369.40,449.77 L370.10,446.07 L370.80,448.47 L372.20,455.66 L372.60,458.65 L373.60,450.15 L374.80,440.36 L376.40,441.63 L377.80,438.92 L378.60,438.20 L379.20,438.10 L380.60,441.72 L382.00,445.95 L383.40,446.69 L383.40,447.79 L384.80,447.17 L386.20,443.10 L387.60,444.21 L388.10,442.06 L389.00,443.76 L390.40,445.70 L391.80,444.95 L392.80,446.70 L393.20,446.23 L394.60,450.41 L395.70,453.34 L397.40,455.04 L398.50,455.84 L400.20,454.24 L401.40,450.24 L403.00,475.18 L404.40,497.92 L404.40,497.00 L405.80,474.27 L407.20,454.70 L407.30,453.93 L408.60,451.13 L410.00,453.06 L411.00,449.81 L411.40,453.35 L412.80,453.98 L414.20,454.59 L415.60,456.03 L415.60,456.90 L417.00,455.48 L418.40,454.32 L419.00,453.76 L419.80,453.98 L421.20,457.29 L422.60,459.76 L423.60,463.92 L424.00,461.27 L425.40,461.11 L426.80,457.46 L428.10,457.59 L429.60,457.64 L431.00,458.56 L432.40,460.04 L432.70,458.79 L433.80,462.49 L435.20,466.32 L436.60,468.89 L437.30,470.02 L438.00,469.89 L439.40,469.70 L440.80,466.09 L442.20,468.36 L443.00,466.20 L443.60,467.43 L445.00,464.46 L446.40,464.89 L447.80,465.47 L448.70,465.32 L449.20,467.14 L450.60,466.91 L452.00,468.42 L453.30,471.33 L454.80,466.46 L456.20,465.73 L457.60,460.42 L457.90,459.01 L459.00,462.10 L460.40,462.23 L461.80,465.83 L463.20,464.64 L463.60,466.30 L464.60,467.81 L466.00,469.15 L467.40,469.43 L468.80,472.57 L469.30,471.92 L470.20,471.29 L471.60,473.51 L473.00,470.91 L474.40,469.76 L475.00,469.34 L475.80,473.02 L477.20,474.67 L478.60,475.98 L480.00,477.80 L480.70,476.99 L481.40,477.80 L482.80,477.95 L484.20,476.06 L485.30,477.34 L487.00,472.95 L488.40,468.28 L488.70,467.86 L489.80,470.28 L491.00,476.21 L492.60,478.82 L494.00,481.38 L494.90,484.76 L495.40,483.86 L496.80,478.38 L497.90,477.97 L499.60,481.33 L501.00,486.57 L501.30,488.42 L502.40,483.53 L503.80,481.46 L504.70,479.49 L505.20,481.79 L506.60,485.26 L508.00,485.93 L509.30,489.36 L510.80,482.46 L511.60,480.37 L512.20,480.47 L512.50,480.41" fill="none" stroke="#ad6200" stroke-width="1.65" stroke-linejoin="round"/>
</g>
<text x="80.5" y="499.0" font-size="9.4" text-anchor="middle" textLength="13.5" lengthAdjust="spacingAndGlyphs" fill="#000" stroke="#000" stroke-width="0.2">Mg</text>
<text x="101.1" y="499.0" font-size="9.4" text-anchor="middle" textLength="5.9" lengthAdjust="spacingAndGlyphs" fill="#000" stroke="#000" stroke-width="0.2">K</text>
<text x="193.0" y="499.0" font-size="9.4" text-anchor="middle" textLength="13.5" lengthAdjust="spacingAndGlyphs" fill="#000" stroke="#000" stroke-width="0.2">Mg</text>
<text x="215.2" y="499.0" font-size="9.4" text-anchor="middle" textLength="8.2" lengthAdjust="spacingAndGlyphs" fill="#000" stroke="#000" stroke-width="0.2">Si</text>
<text x="262.8" y="499.0" font-size="9.4" text-anchor="middle" textLength="13.4" lengthAdjust="spacingAndGlyphs" fill="#000" stroke="#000" stroke-width="0.2">CO</text>
<text x="346.3" y="499.0" font-size="9.4" text-anchor="middle" textLength="8.7" lengthAdjust="spacingAndGlyphs" fill="#000" stroke="#000" stroke-width="0.2">Al</text>
<text x="405.2" y="499.0" font-size="9.4" text-anchor="middle" textLength="13.5" lengthAdjust="spacingAndGlyphs" fill="#000" stroke="#000" stroke-width="0.2">Mg</text>
<rect x="58.6" y="396.0" width="454.0" height="105.30000000000001" fill="none" stroke="#000" stroke-width="1.25"/>
<line x1="74.7" y1="501.3" x2="74.7" y2="505.0" stroke="#000" stroke-width="1"/>
<text x="75.1" y="518.5" font-size="12.6" text-anchor="middle" textLength="25.8" lengthAdjust="spacingAndGlyphs">1.50</text>
<line x1="152.9" y1="501.3" x2="152.9" y2="505.0" stroke="#000" stroke-width="1"/>
<text x="153.3" y="518.5" font-size="12.6" text-anchor="middle" textLength="25.8" lengthAdjust="spacingAndGlyphs">1.55</text>
<line x1="231.1" y1="501.3" x2="231.1" y2="505.0" stroke="#000" stroke-width="1"/>
<text x="231.5" y="518.5" font-size="12.6" text-anchor="middle" textLength="25.8" lengthAdjust="spacingAndGlyphs">1.60</text>
<line x1="309.3" y1="501.3" x2="309.3" y2="505.0" stroke="#000" stroke-width="1"/>
<text x="309.7" y="518.5" font-size="12.6" text-anchor="middle" textLength="25.8" lengthAdjust="spacingAndGlyphs">1.65</text>
<line x1="387.5" y1="501.3" x2="387.5" y2="505.0" stroke="#000" stroke-width="1"/>
<text x="387.9" y="518.5" font-size="12.6" text-anchor="middle" textLength="25.8" lengthAdjust="spacingAndGlyphs">1.70</text>
<line x1="465.7" y1="501.3" x2="465.7" y2="505.0" stroke="#000" stroke-width="1"/>
<text x="466.1" y="518.5" font-size="12.6" text-anchor="middle" textLength="25.8" lengthAdjust="spacingAndGlyphs">1.75</text>
<line x1="54.9" y1="406.1" x2="58.6" y2="406.1" stroke="#000" stroke-width="1"/>
<text x="50.8" y="410.7" font-size="12.6" text-anchor="end" textLength="26.7" lengthAdjust="spacingAndGlyphs">0.90</text>
<line x1="54.9" y1="450.6" x2="58.6" y2="450.6" stroke="#000" stroke-width="1"/>
<text x="50.8" y="455.2" font-size="12.6" text-anchor="end" textLength="26.7" lengthAdjust="spacingAndGlyphs">0.75</text>
<line x1="54.9" y1="495.2" x2="58.6" y2="495.2" stroke="#000" stroke-width="1"/>
<text x="50.8" y="499.8" font-size="12.6" text-anchor="end" textLength="26.7" lengthAdjust="spacingAndGlyphs">0.60</text>
<clipPath id="c4"><rect x="58.6" y="527.7" width="454.0" height="105.39999999999998"/></clipPath>
<g clip-path="url(#c4)">
<rect x="83.8" y="527.7" width="13.80" height="105.39999999999998" fill="#acacac"/>
<rect x="275.2" y="527.7" width="3.50" height="105.39999999999998" fill="#acacac"/>
<rect x="314.5" y="527.7" width="8.10" height="105.39999999999998" fill="#acacac"/>
<rect x="371.4" y="527.7" width="8.40" height="105.39999999999998" fill="#acacac"/>
<rect x="403.9" y="527.7" width="23.70" height="105.39999999999998" fill="#acacac"/>
<rect x="455.9" y="527.7" width="4.00" height="105.39999999999998" fill="#acacac"/>
<path d="M58.50,579.65V582.05M59.20,576.72V579.01M59.90,561.35V562.99M60.80,541.60V543.20M61.20,540.15V541.50M62.50,537.60V539.90M63.70,535.33V536.76M65.10,530.62V531.83M66.40,526.57V528.84M66.50,529.14V531.06M67.70,533.21V535.22M69.00,537.52V539.60M69.40,540.19V541.44M70.30,542.32V543.63M71.60,542.79V544.58M72.20,543.33V544.59M72.90,539.00V540.80M74.10,534.34V536.42M75.50,535.60V537.59M76.80,534.55V536.49M77.90,536.83V538.08M79.40,538.97V540.46M80.70,542.92V545.20M80.70,541.11V542.45M82.00,545.80V547.64M82.60,548.11V549.37M83.30,547.50V549.83M84.50,552.80V554.21M85.90,582.00V583.69M86.80,598.42V600.28M87.20,593.43V595.50M88.50,569.17V571.50M89.30,557.07V559.15M89.80,557.61V559.23M91.10,558.42V559.71M91.20,558.49V560.53M92.40,551.35V553.72M92.70,548.48V549.70M93.70,562.48V564.61M95.00,583.77V585.18M95.30,587.38V589.13M96.30,573.16V574.99M97.60,551.82V553.76M97.80,548.80V551.19M98.90,555.55V557.58M100.20,561.08V562.76M100.60,562.79V564.85M101.50,558.08V559.84M102.80,551.56V553.26M103.10,552.79V554.43M104.10,552.43V554.22M105.40,557.40V558.93M105.40,556.08V557.58M106.70,549.38V550.76M107.60,541.85V543.58M108.00,544.34V545.89M109.30,545.86V548.07M110.10,546.76V548.98M110.60,547.35V548.96M111.90,544.09V546.03M113.20,541.04V543.32M113.90,539.18V540.81M114.50,539.40V541.26M115.80,542.82V544.55M116.70,542.71V544.69M117.10,544.95V547.30M118.40,547.84V549.20M119.60,548.98V551.33M121.00,550.70V552.70M122.30,549.28V551.43M123.40,550.21V552.17M124.90,551.82V554.06M126.20,551.50V553.09M127.50,552.73V554.78M128.10,552.96V554.47M128.80,553.73V555.54M130.10,553.77V555.79M131.40,553.31V554.75M132.70,553.63V554.90M132.80,551.35V553.50M134.00,554.81V556.98M135.30,557.33V559.33M136.60,558.35V559.93M137.60,560.15V562.14M139.20,557.89V559.19M140.50,556.94V558.93M141.40,553.84V555.73M141.80,554.44V556.39M143.10,554.69V556.43M144.40,557.26V558.73M145.20,558.33V560.40M145.70,559.48V561.24M147.00,559.64V561.73M148.30,558.56V560.20M148.80,560.72V562.02M149.60,557.66V559.51M150.90,558.51V560.45M151.60,555.99V558.29M152.20,557.49V559.75M153.50,558.76V560.03M154.50,561.84V563.97M156.10,561.68V563.20M157.40,559.19V561.22M158.30,560.25V561.90M158.70,559.73V561.31M160.00,560.92V562.71M161.30,561.70V563.54M162.60,560.99V563.03M163.90,563.79V565.75M164.00,562.17V564.19M165.20,562.82V564.48M166.50,561.55V563.57M167.80,561.60V563.21M168.70,561.98V563.91M169.10,562.92V564.67M170.40,565.92V567.79M171.70,567.56V568.78M173.00,567.55V569.34M173.00,567.64V569.11M174.30,566.68V568.34M175.60,565.95V567.24M176.90,562.69V564.67M177.20,563.49V565.76M178.20,562.44V564.07M179.50,562.80V564.12M180.80,562.55V564.49M181.00,562.13V563.48M182.10,563.69V565.96M183.40,565.94V567.28M183.80,564.40V566.03M184.70,563.75V565.54M186.00,563.33V564.67M187.30,562.43V564.01M187.60,562.20V563.73M188.60,562.49V564.54M189.90,564.07V566.45M191.20,566.79V568.43M192.40,568.51V570.66M193.80,567.69V569.06M195.10,567.75V569.65M196.40,568.26V569.98M197.10,569.23V570.78M197.70,569.32V571.51M199.00,570.05V572.15M200.30,569.08V570.45M201.60,570.17V571.72M201.80,568.86V571.05M202.90,570.78V573.17M204.20,570.13V572.06M205.50,572.55V574.80M206.60,572.12V574.50M208.10,572.57V574.66M209.40,571.82V573.79M210.70,571.18V572.65M211.30,571.46V573.11M212.00,570.50V572.45M213.30,571.10V573.41M214.60,573.64V575.20M215.90,574.24V575.91M216.00,575.52V576.75M217.20,574.76V576.79M218.50,578.49V580.23M219.50,579.70V581.85M221.10,577.03V578.51M222.40,574.47V576.46M222.70,573.27V575.27M223.70,576.74V578.50M225.00,580.92V582.35M226.30,585.36V587.04M226.80,585.75V587.84M227.60,584.12V585.55M228.90,579.95V581.26M230.20,573.81V575.56M230.30,575.83V577.31M231.50,575.04V577.20M232.80,575.86V578.04M234.10,574.18V576.52M235.00,574.84V577.05M235.40,574.73V576.70M236.70,575.31V576.74M237.70,575.55V577.74M239.30,575.61V577.68M240.60,576.79V578.89M241.90,574.34V576.38M242.40,575.53V577.73M243.20,575.10V576.66M244.50,575.15V577.16M245.80,576.38V578.20M247.10,578.64V580.24M247.20,578.21V579.80M248.40,578.44V579.83M249.70,577.97V579.76M251.00,577.55V579.19M252.30,578.11V579.82M252.80,579.07V581.29M253.60,577.34V579.36M254.90,579.14V581.16M256.20,577.92V580.30M256.60,578.31V579.77M257.50,578.64V580.45M258.80,578.45V579.76M260.10,580.84V582.51M261.40,579.11V581.45M262.30,579.24V580.54M262.70,578.42V580.52M264.00,578.75V580.99M265.30,579.62V581.43M266.60,580.25V582.40M267.90,581.20V582.93M268.00,582.33V583.96M269.20,582.22V584.03M270.50,580.84V582.27M271.80,582.06V583.62M272.70,583.10V584.66M273.10,580.21V582.59M274.40,582.11V583.71M275.70,580.30V581.77M277.00,580.35V582.68M277.50,579.32V580.69M278.30,580.22V582.58M279.60,580.84V583.06M280.90,580.72V582.70M282.20,583.57V585.28M282.20,583.89V585.32M283.50,583.24V584.57M284.80,583.22V584.55M286.10,584.89V586.51M286.90,583.40V585.09M287.40,585.34V587.64M288.70,586.43V588.27M289.80,587.85V590.24M291.30,585.41V587.47M292.60,582.68V584.06M292.60,583.04V584.91M293.90,583.66V585.05M295.20,583.78V585.03M296.50,585.09V587.43M297.40,585.54V587.14M297.80,584.93V586.36M299.10,586.89V588.22M300.40,590.24V592.23M300.60,588.40V590.15M301.70,588.11V589.32M303.00,587.85V589.91M304.00,584.66V586.17M305.60,584.80V586.94M306.90,585.76V587.55M307.80,583.33V585.17M308.20,583.92V585.66M309.50,587.50V589.51M310.80,587.92V590.31M312.10,588.15V590.31M312.50,589.60V590.89M313.40,588.54V590.34M314.20,590.36V591.84M314.70,594.16V595.48M316.00,600.90V602.33M316.70,607.12V608.62M317.30,600.55V602.90M318.40,591.79V593.88M319.60,605.26V607.49M321.20,592.06V594.10M321.50,588.34V589.92M322.50,587.96V589.63M323.80,587.23V588.96M325.10,586.25V587.80M325.70,586.56V588.26M326.40,587.05V589.18M327.70,586.96V588.25M329.00,587.90V589.43M330.30,587.49V589.27M331.00,588.62V590.63M331.60,590.86V592.84M332.90,590.87V592.94M334.10,592.60V593.92M335.50,589.96V591.37M336.20,588.40V589.97M336.80,590.09V591.63M338.10,590.46V592.57M339.30,592.49V594.88M340.70,593.57V595.59M342.00,592.23V593.47M343.30,592.71V594.27M343.50,590.01V592.17M344.60,591.74V594.05M345.90,591.07V592.98M347.20,591.22V592.84M348.50,592.35V593.98M348.80,590.09V592.05M349.80,591.43V593.66M351.10,591.52V593.13M352.40,592.40V593.83M353.70,594.37V595.57M354.00,593.23V594.60M355.00,594.08V596.30M356.30,592.31V594.25M357.60,595.10V597.48M358.90,595.78V597.06M359.20,594.88V596.52M360.20,593.27V595.43M361.50,594.64V596.64M362.80,593.69V594.97M364.10,594.00V595.69M364.50,592.92V594.88M365.40,593.44V595.47M366.70,594.49V596.23M368.00,595.37V596.80M369.30,597.41V599.77M370.60,596.70V598.46M370.80,598.28V600.34M371.90,599.43V601.27M373.20,603.79V605.09M373.90,605.83V607.31M374.50,604.61V605.89M375.40,598.57V600.00M375.80,600.16V601.60M376.60,610.26V611.96M377.10,605.82V607.41M378.40,599.35V600.99M379.10,596.45V598.63M379.70,595.86V597.09M381.00,597.97V599.29M382.30,595.84V598.01M383.30,596.58V598.42M384.90,596.26V597.99M386.20,595.24V596.76M387.50,596.03V597.88M387.50,596.95V598.41M388.80,596.31V598.54M390.10,595.75V597.94M390.70,598.47V600.06M391.40,599.99V601.22M392.70,602.19V604.46M392.80,603.25V604.81M394.00,600.74V602.73M395.30,599.44V601.67M395.90,599.46V601.62M396.60,598.17V600.41M397.90,599.85V601.64M399.20,598.51V600.72M400.10,598.93V600.69M400.50,601.08V602.60M401.80,600.80V602.57M403.10,600.64V602.24M403.90,602.10V604.22M404.40,607.13V609.33M405.70,618.29V619.66M406.00,620.54V621.94M407.00,615.74V617.40M408.30,612.03V613.78M408.50,611.06V613.41M409.60,608.58V610.91M410.90,608.96V611.32M412.20,607.32V609.40M412.70,606.86V608.87M413.50,607.91V609.44M414.80,606.34V607.99M416.10,607.28V608.49M416.90,609.17V611.37M417.40,607.46V608.99M418.70,607.16V608.46M420.00,606.22V607.79M421.30,606.59V608.18M421.80,606.94V609.00M422.60,606.12V607.32M423.90,607.02V608.50M425.20,606.87V609.15M426.00,606.82V609.04M426.50,608.63V610.59M427.80,608.88V610.75M429.10,608.67V610.14M430.40,606.68V608.93M431.20,605.53V607.64M431.70,606.97V608.78M433.00,608.97V610.37M433.30,608.84V610.29M434.30,619.60V621.26M435.00,626.58V628.18M435.60,624.00V625.28M436.40,618.37V620.06M436.90,617.20V618.94M438.20,617.88V619.42M439.50,616.45V618.11M440.60,613.26V614.85M442.10,613.11V614.76M443.40,613.91V615.85M444.70,614.12V615.92M444.80,614.67V616.11M446.00,614.42V616.57M447.30,618.02V619.84M448.00,620.31V622.06M448.60,618.32V620.38M449.90,614.19V616.30M450.00,613.15V615.37M451.20,612.65V614.83M452.50,611.51V613.51M453.20,612.39V614.45M453.80,612.69V614.08M455.10,613.73V615.77M456.40,612.22V613.72M457.40,612.29V613.80M459.00,612.11V613.45M460.30,611.13V612.80M461.10,611.26V612.48M461.60,610.89V612.88M462.90,614.44V616.54M463.70,616.04V618.17M464.20,617.64V618.99M465.50,628.96V630.93M465.80,628.65V630.86M466.80,624.74V625.98M467.90,619.65V621.08M469.40,618.66V620.18M470.70,617.29V619.05M472.00,618.24V619.65M472.00,618.33V620.17M473.30,616.73V618.34M474.60,616.37V618.35M475.90,617.43V619.27M477.20,616.30V618.33M478.30,618.78V620.28M479.80,618.00V620.05M481.10,617.71V619.79M482.40,616.30V618.37M483.70,617.52V618.80M484.60,615.73V618.06M485.00,616.14V618.03M486.30,615.33V616.86M487.60,615.04V616.77M488.90,616.77V618.59M490.20,615.43V617.25M490.90,617.73V619.23M491.50,616.43V617.95M492.80,615.98V617.62M494.00,616.24V618.37M495.10,629.47V631.20M496.70,626.17V627.42M498.00,624.29V626.03M498.20,624.76V626.20M499.30,623.37V624.59M500.60,622.40V624.77M501.90,623.33V624.88M503.20,621.41V623.25M503.50,621.24V622.87M504.50,621.62V622.89M505.80,622.60V624.88M507.10,624.53V626.85M507.70,622.96V624.39M508.40,624.53V626.23M509.70,624.02V625.67M511.00,623.32V624.72M511.90,622.62V624.62M512.30,622.49V624.63M512.50,621.33V623.44" stroke="#ea3030" stroke-width="1.0" fill="none"/>
<path d="M58.50,580.85 L59.20,577.86 L59.90,562.17 L60.80,542.40 L61.20,540.83 L62.50,538.75 L63.70,536.04 L65.10,531.23 L66.40,527.71 L66.50,530.10 L67.70,534.22 L69.00,538.56 L69.40,540.82 L70.30,542.97 L71.60,543.68 L72.20,543.96 L72.90,539.90 L74.10,535.38 L75.50,536.59 L76.80,535.52 L77.90,537.46 L79.40,539.71 L80.70,544.06 L80.70,541.78 L82.00,546.72 L82.60,548.74 L83.30,548.67 L84.50,553.51 L85.90,582.84 L86.80,599.35 L87.20,594.46 L88.50,570.34 L89.30,558.11 L89.80,558.42 L91.10,559.07 L91.20,559.51 L92.40,552.54 L92.70,549.09 L93.70,563.54 L95.00,584.48 L95.30,588.26 L96.30,574.08 L97.60,552.79 L97.80,550.00 L98.90,556.56 L100.20,561.92 L100.60,563.82 L101.50,558.96 L102.80,552.41 L103.10,553.61 L104.10,553.33 L105.40,558.17 L105.40,556.83 L106.70,550.07 L107.60,542.72 L108.00,545.12 L109.30,546.97 L110.10,547.87 L110.60,548.16 L111.90,545.06 L113.20,542.18 L113.90,540.00 L114.50,540.33 L115.80,543.68 L116.70,543.70 L117.10,546.12 L118.40,548.52 L119.60,550.15 L121.00,551.70 L122.30,550.35 L123.40,551.19 L124.90,552.94 L126.20,552.30 L127.50,553.75 L128.10,553.72 L128.80,554.63 L130.10,554.78 L131.40,554.03 L132.70,554.26 L132.80,552.43 L134.00,555.90 L135.30,558.33 L136.60,559.14 L137.60,561.15 L139.20,558.54 L140.50,557.93 L141.40,554.79 L141.80,555.42 L143.10,555.56 L144.40,558.00 L145.20,559.37 L145.70,560.36 L147.00,560.69 L148.30,559.38 L148.80,561.37 L149.60,558.58 L150.90,559.48 L151.60,557.14 L152.20,558.62 L153.50,559.40 L154.50,562.90 L156.10,562.44 L157.40,560.20 L158.30,561.08 L158.70,560.52 L160.00,561.81 L161.30,562.62 L162.60,562.01 L163.90,564.77 L164.00,563.18 L165.20,563.65 L166.50,562.56 L167.80,562.41 L168.70,562.95 L169.10,563.79 L170.40,566.86 L171.70,568.17 L173.00,568.45 L173.00,568.37 L174.30,567.51 L175.60,566.59 L176.90,563.68 L177.20,564.62 L178.20,563.25 L179.50,563.46 L180.80,563.52 L181.00,562.80 L182.10,564.83 L183.40,566.61 L183.80,565.22 L184.70,564.65 L186.00,564.00 L187.30,563.22 L187.60,562.97 L188.60,563.52 L189.90,565.26 L191.20,567.61 L192.40,569.58 L193.80,568.38 L195.10,568.70 L196.40,569.12 L197.10,570.00 L197.70,570.41 L199.00,571.10 L200.30,569.76 L201.60,570.94 L201.80,569.96 L202.90,571.97 L204.20,571.10 L205.50,573.67 L206.60,573.31 L208.10,573.61 L209.40,572.80 L210.70,571.91 L211.30,572.28 L212.00,571.47 L213.30,572.25 L214.60,574.42 L215.90,575.07 L216.00,576.13 L217.20,575.78 L218.50,579.36 L219.50,580.77 L221.10,577.77 L222.40,575.46 L222.70,574.27 L223.70,577.62 L225.00,581.64 L226.30,586.20 L226.80,586.79 L227.60,584.84 L228.90,580.60 L230.20,574.69 L230.30,576.57 L231.50,576.12 L232.80,576.95 L234.10,575.35 L235.00,575.94 L235.40,575.71 L236.70,576.03 L237.70,576.65 L239.30,576.64 L240.60,577.84 L241.90,575.36 L242.40,576.63 L243.20,575.88 L244.50,576.15 L245.80,577.29 L247.10,579.44 L247.20,579.00 L248.40,579.14 L249.70,578.87 L251.00,578.37 L252.30,578.97 L252.80,580.18 L253.60,578.35 L254.90,580.15 L256.20,579.11 L256.60,579.04 L257.50,579.55 L258.80,579.11 L260.10,581.67 L261.40,580.28 L262.30,579.89 L262.70,579.47 L264.00,579.87 L265.30,580.53 L266.60,581.32 L267.90,582.07 L268.00,583.15 L269.20,583.12 L270.50,581.56 L271.80,582.84 L272.70,583.88 L273.10,581.40 L274.40,582.91 L275.70,581.03 L277.00,581.52 L277.50,580.00 L278.30,581.40 L279.60,581.95 L280.90,581.71 L282.20,584.43 L282.20,584.60 L283.50,583.90 L284.80,583.88 L286.10,585.70 L286.90,584.25 L287.40,586.49 L288.70,587.35 L289.80,589.05 L291.30,586.44 L292.60,583.37 L292.60,583.98 L293.90,584.36 L295.20,584.40 L296.50,586.26 L297.40,586.34 L297.80,585.65 L299.10,587.56 L300.40,591.23 L300.60,589.27 L301.70,588.72 L303.00,588.88 L304.00,585.42 L305.60,585.87 L306.90,586.66 L307.80,584.25 L308.20,584.79 L309.50,588.50 L310.80,589.12 L312.10,589.23 L312.50,590.24 L313.40,589.44 L314.20,591.10 L314.70,594.82 L316.00,601.61 L316.70,607.87 L317.30,601.73 L318.40,592.83 L319.60,606.38 L321.20,593.08 L321.50,589.13 L322.50,588.79 L323.80,588.09 L325.10,587.02 L325.70,587.41 L326.40,588.12 L327.70,587.61 L329.00,588.67 L330.30,588.38 L331.00,589.63 L331.60,591.85 L332.90,591.91 L334.10,593.26 L335.50,590.66 L336.20,589.19 L336.80,590.86 L338.10,591.51 L339.30,593.69 L340.70,594.58 L342.00,592.85 L343.30,593.49 L343.50,591.09 L344.60,592.89 L345.90,592.02 L347.20,592.03 L348.50,593.17 L348.80,591.07 L349.80,592.54 L351.10,592.33 L352.40,593.11 L353.70,594.97 L354.00,593.91 L355.00,595.19 L356.30,593.28 L357.60,596.29 L358.90,596.42 L359.20,595.70 L360.20,594.35 L361.50,595.64 L362.80,594.33 L364.10,594.85 L364.50,593.90 L365.40,594.45 L366.70,595.36 L368.00,596.09 L369.30,598.59 L370.60,597.58 L370.80,599.31 L371.90,600.35 L373.20,604.44 L373.90,606.57 L374.50,605.25 L375.40,599.29 L375.80,600.88 L376.60,611.11 L377.10,606.61 L378.40,600.17 L379.10,597.54 L379.70,596.47 L381.00,598.63 L382.30,596.93 L383.30,597.50 L384.90,597.12 L386.20,596.00 L387.50,596.96 L387.50,597.68 L388.80,597.42 L390.10,596.84 L390.70,599.26 L391.40,600.60 L392.70,603.32 L392.80,604.03 L394.00,601.73 L395.30,600.55 L395.90,600.54 L396.60,599.29 L397.90,600.75 L399.20,599.61 L400.10,599.81 L400.50,601.84 L401.80,601.69 L403.10,601.44 L403.90,603.16 L404.40,608.23 L405.70,618.97 L406.00,621.24 L407.00,616.57 L408.30,612.90 L408.50,612.24 L409.60,609.75 L410.90,610.14 L412.20,608.36 L412.70,607.86 L413.50,608.67 L414.80,607.17 L416.10,607.89 L416.90,610.27 L417.40,608.23 L418.70,607.81 L420.00,607.01 L421.30,607.39 L421.80,607.97 L422.60,606.72 L423.90,607.76 L425.20,608.01 L426.00,607.93 L426.50,609.61 L427.80,609.81 L429.10,609.41 L430.40,607.80 L431.20,606.59 L431.70,607.88 L433.00,609.67 L433.30,609.56 L434.30,620.43 L435.00,627.38 L435.60,624.64 L436.40,619.21 L436.90,618.07 L438.20,618.65 L439.50,617.28 L440.60,614.06 L442.10,613.93 L443.40,614.88 L444.70,615.02 L444.80,615.39 L446.00,615.50 L447.30,618.93 L448.00,621.18 L448.60,619.35 L449.90,615.24 L450.00,614.26 L451.20,613.74 L452.50,612.51 L453.20,613.42 L453.80,613.39 L455.10,614.75 L456.40,612.97 L457.40,613.05 L459.00,612.78 L460.30,611.97 L461.10,611.87 L461.60,611.89 L462.90,615.49 L463.70,617.10 L464.20,618.32 L465.50,629.95 L465.80,629.75 L466.80,625.36 L467.90,620.36 L469.40,619.42 L470.70,618.17 L472.00,618.94 L472.00,619.25 L473.30,617.54 L474.60,617.36 L475.90,618.35 L477.20,617.32 L478.30,619.53 L479.80,619.02 L481.10,618.75 L482.40,617.34 L483.70,618.16 L484.60,616.90 L485.00,617.08 L486.30,616.10 L487.60,615.90 L488.90,617.68 L490.20,616.34 L490.90,618.48 L491.50,617.19 L492.80,616.80 L494.00,617.30 L495.10,630.33 L496.70,626.79 L498.00,625.16 L498.20,625.48 L499.30,623.98 L500.60,623.58 L501.90,624.10 L503.20,622.33 L503.50,622.06 L504.50,622.25 L505.80,623.74 L507.10,625.69 L507.70,623.67 L508.40,625.38 L509.70,624.85 L511.00,624.02 L511.90,623.62 L512.30,623.56 L512.50,622.39" fill="none" stroke="#a60005" stroke-width="1.5" stroke-linejoin="round"/>
</g>
<text x="90.6" y="632.2" font-size="9.4" text-anchor="middle" textLength="11.8" lengthAdjust="spacingAndGlyphs" fill="#000" stroke="#000" stroke-width="0.2">Ca</text>
<text x="277.0" y="632.2" font-size="9.4" text-anchor="middle" fill="#000" stroke="#000" stroke-width="0.2">Br-<tspan font-style="italic">γ</tspan></text>
<text x="318.5" y="632.2" font-size="9.4" text-anchor="middle" textLength="12.2" lengthAdjust="spacingAndGlyphs" fill="#000" stroke="#000" stroke-width="0.2">Na</text>
<text x="375.5" y="632.2" font-size="9.4" text-anchor="middle" textLength="11.8" lengthAdjust="spacingAndGlyphs" fill="#000" stroke="#000" stroke-width="0.2">Ca</text>
<text x="415.8" y="632.2" font-size="9.4" text-anchor="middle" textLength="13.4" lengthAdjust="spacingAndGlyphs" fill="#000" stroke="#000" stroke-width="0.2">CO</text>
<text x="457.9" y="632.2" font-size="9.4" text-anchor="middle" textLength="13.4" lengthAdjust="spacingAndGlyphs" fill="#000" stroke="#000" stroke-width="0.2">CO</text>
<rect x="58.6" y="527.7" width="454.0" height="105.39999999999998" fill="none" stroke="#000" stroke-width="1.25"/>
<line x1="58.8" y1="633.1" x2="58.8" y2="636.8" stroke="#000" stroke-width="1"/>
<text x="59.2" y="650.3" font-size="12.6" text-anchor="middle" textLength="25.8" lengthAdjust="spacingAndGlyphs">1.95</text>
<line x1="109.2" y1="633.1" x2="109.2" y2="636.8" stroke="#000" stroke-width="1"/>
<text x="109.2" y="650.3" font-size="12.6" text-anchor="middle" textLength="26.7" lengthAdjust="spacingAndGlyphs">2.00</text>
<line x1="159.7" y1="633.1" x2="159.7" y2="636.8" stroke="#000" stroke-width="1"/>
<text x="159.7" y="650.3" font-size="12.6" text-anchor="middle" textLength="26.7" lengthAdjust="spacingAndGlyphs">2.05</text>
<line x1="210.1" y1="633.1" x2="210.1" y2="636.8" stroke="#000" stroke-width="1"/>
<text x="210.1" y="650.3" font-size="12.6" text-anchor="middle" textLength="26.7" lengthAdjust="spacingAndGlyphs">2.10</text>
<line x1="260.6" y1="633.1" x2="260.6" y2="636.8" stroke="#000" stroke-width="1"/>
<text x="260.6" y="650.3" font-size="12.6" text-anchor="middle" textLength="26.7" lengthAdjust="spacingAndGlyphs">2.15</text>
<line x1="311.0" y1="633.1" x2="311.0" y2="636.8" stroke="#000" stroke-width="1"/>
<text x="311.0" y="650.3" font-size="12.6" text-anchor="middle" textLength="26.7" lengthAdjust="spacingAndGlyphs">2.20</text>
<line x1="361.4" y1="633.1" x2="361.4" y2="636.8" stroke="#000" stroke-width="1"/>
<text x="361.4" y="650.3" font-size="12.6" text-anchor="middle" textLength="26.7" lengthAdjust="spacingAndGlyphs">2.25</text>
<line x1="411.9" y1="633.1" x2="411.9" y2="636.8" stroke="#000" stroke-width="1"/>
<text x="411.9" y="650.3" font-size="12.6" text-anchor="middle" textLength="26.7" lengthAdjust="spacingAndGlyphs">2.30</text>
<line x1="462.3" y1="633.1" x2="462.3" y2="636.8" stroke="#000" stroke-width="1"/>
<text x="462.3" y="650.3" font-size="12.6" text-anchor="middle" textLength="26.7" lengthAdjust="spacingAndGlyphs">2.35</text>
<line x1="512.8" y1="633.1" x2="512.8" y2="636.8" stroke="#000" stroke-width="1"/>
<text x="512.8" y="650.3" font-size="12.6" text-anchor="middle" textLength="26.7" lengthAdjust="spacingAndGlyphs">2.40</text>
<line x1="54.9" y1="536.1" x2="58.6" y2="536.1" stroke="#000" stroke-width="1"/>
<text x="50.8" y="540.7" font-size="12.6" text-anchor="end" textLength="19.1" lengthAdjust="spacingAndGlyphs">0.5</text>
<line x1="54.9" y1="572.7" x2="58.6" y2="572.7" stroke="#000" stroke-width="1"/>
<text x="50.8" y="577.3" font-size="12.6" text-anchor="end" textLength="19.1" lengthAdjust="spacingAndGlyphs">0.4</text>
<line x1="54.9" y1="608.9" x2="58.6" y2="608.9" stroke="#000" stroke-width="1"/>
<text x="50.8" y="613.5" font-size="12.6" text-anchor="end" textLength="19.1" lengthAdjust="spacingAndGlyphs">0.3</text>
<text transform="translate(11.8,318.8) rotate(-90)" font-size="15.9" text-anchor="middle" textLength="121.3" lengthAdjust="spacingAndGlyphs">Normalized Flux</text>
<text x="212.3" y="670.9" font-size="15.9" textLength="130.3" lengthAdjust="spacingAndGlyphs">Wavelength (<tspan font-style="italic">μ</tspan>m)</text>
</svg></body></html>
